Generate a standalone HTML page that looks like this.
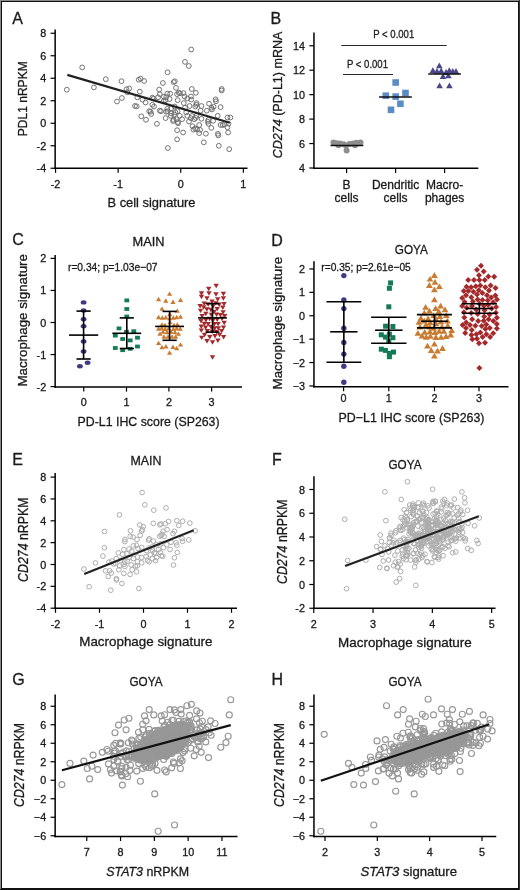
<!DOCTYPE html><html><head><meta charset="utf-8"><style>html,body{margin:0;padding:0;background:#fff;overflow:hidden}svg{display:block;will-change:transform}text{stroke:#1a1a1a;stroke-width:0.3px}</style></head><body><svg width="520" height="890" viewBox="0 0 520 890" font-family='"Liberation Sans", sans-serif' fill="#1a1a1a">
<rect x="0" y="0" width="520" height="890" fill="#ffffff"/>
<rect x="0.5" y="0.5" width="519" height="889" fill="none" stroke="#8a8a8a" stroke-width="1"/>
<rect x="1.5" y="1.5" width="517" height="887" fill="none" stroke="#111" stroke-width="1"/>
<line x1="0" y1="889.5" x2="520" y2="889.5" stroke="#111" stroke-width="1"/>
<line x1="519.5" y1="0" x2="519.5" y2="890" stroke="#333" stroke-width="1"/>
<text x="12.30" y="23.80" font-size="16" text-anchor="start">A</text>
<text x="270.50" y="23.60" font-size="16" text-anchor="start">B</text>
<text x="12.30" y="245.00" font-size="16" text-anchor="start">C</text>
<text x="271.30" y="245.50" font-size="16" text-anchor="start">D</text>
<text x="12.30" y="464.50" font-size="16" text-anchor="start">E</text>
<text x="272.00" y="464.50" font-size="16" text-anchor="start">F</text>
<text x="12.30" y="685.00" font-size="16" text-anchor="start">G</text>
<text x="271.50" y="685.00" font-size="16" text-anchor="start">H</text>
<line x1="55.15" y1="29.50" x2="55.15" y2="168.95" stroke="#000" stroke-width="1.5"/>
<line x1="54.40" y1="168.20" x2="247.50" y2="168.20" stroke="#000" stroke-width="1.5"/>
<line x1="50.55" y1="33.25" x2="55.15" y2="33.25" stroke="#000" stroke-width="1.2"/>
<text x="46.15" y="37.25" font-size="10.8" text-anchor="end">8</text>
<line x1="50.55" y1="55.75" x2="55.15" y2="55.75" stroke="#000" stroke-width="1.2"/>
<text x="46.15" y="59.75" font-size="10.8" text-anchor="end">6</text>
<line x1="50.55" y1="78.25" x2="55.15" y2="78.25" stroke="#000" stroke-width="1.2"/>
<text x="46.15" y="82.25" font-size="10.8" text-anchor="end">4</text>
<line x1="50.55" y1="100.75" x2="55.15" y2="100.75" stroke="#000" stroke-width="1.2"/>
<text x="46.15" y="104.75" font-size="10.8" text-anchor="end">2</text>
<line x1="50.55" y1="123.25" x2="55.15" y2="123.25" stroke="#000" stroke-width="1.2"/>
<text x="46.15" y="127.25" font-size="10.8" text-anchor="end">0</text>
<line x1="50.55" y1="145.75" x2="55.15" y2="145.75" stroke="#000" stroke-width="1.2"/>
<text x="46.15" y="149.75" font-size="10.8" text-anchor="end">-2</text>
<line x1="50.55" y1="168.25" x2="55.15" y2="168.25" stroke="#000" stroke-width="1.2"/>
<text x="46.15" y="172.25" font-size="10.8" text-anchor="end">-4</text>
<line x1="55.55" y1="168.20" x2="55.55" y2="172.80" stroke="#000" stroke-width="1.2"/>
<text x="55.55" y="188.00" font-size="10.8" text-anchor="middle">-2</text>
<line x1="118.15" y1="168.20" x2="118.15" y2="172.80" stroke="#000" stroke-width="1.2"/>
<text x="118.15" y="188.00" font-size="10.8" text-anchor="middle">-1</text>
<line x1="180.75" y1="168.20" x2="180.75" y2="172.80" stroke="#000" stroke-width="1.2"/>
<text x="180.75" y="188.00" font-size="10.8" text-anchor="middle">0</text>
<line x1="243.35" y1="168.20" x2="243.35" y2="172.80" stroke="#000" stroke-width="1.2"/>
<text x="243.35" y="188.00" font-size="10.8" text-anchor="middle">1</text>
<text x="151.50" y="206.90" font-size="13.3" text-anchor="middle" textLength="88" lengthAdjust="spacingAndGlyphs">B cell signature</text>
<text transform="translate(27.30,98.80) rotate(-90)" font-size="13" text-anchor="middle" textLength="75" lengthAdjust="spacingAndGlyphs">PDL1 nRPKM</text>
<line x1="313.95" y1="32.50" x2="313.95" y2="169.10" stroke="#000" stroke-width="1.5"/>
<line x1="313.20" y1="168.35" x2="478.30" y2="168.35" stroke="#000" stroke-width="1.5"/>
<line x1="309.35" y1="45.75" x2="313.95" y2="45.75" stroke="#000" stroke-width="1.2"/>
<text x="304.95" y="49.75" font-size="10.8" text-anchor="end">14</text>
<line x1="309.35" y1="70.20" x2="313.95" y2="70.20" stroke="#000" stroke-width="1.2"/>
<text x="304.95" y="74.20" font-size="10.8" text-anchor="end">12</text>
<line x1="309.35" y1="94.65" x2="313.95" y2="94.65" stroke="#000" stroke-width="1.2"/>
<text x="304.95" y="98.65" font-size="10.8" text-anchor="end">10</text>
<line x1="309.35" y1="119.10" x2="313.95" y2="119.10" stroke="#000" stroke-width="1.2"/>
<text x="304.95" y="123.10" font-size="10.8" text-anchor="end">8</text>
<line x1="309.35" y1="143.55" x2="313.95" y2="143.55" stroke="#000" stroke-width="1.2"/>
<text x="304.95" y="147.55" font-size="10.8" text-anchor="end">6</text>
<line x1="309.35" y1="168.00" x2="313.95" y2="168.00" stroke="#000" stroke-width="1.2"/>
<text x="304.95" y="172.00" font-size="10.8" text-anchor="end">4</text>
<line x1="346.60" y1="168.35" x2="346.60" y2="172.95" stroke="#000" stroke-width="1.2"/>
<text x="346.60" y="188.15" font-size="10.8" text-anchor="middle"></text>
<line x1="395.60" y1="168.35" x2="395.60" y2="172.95" stroke="#000" stroke-width="1.2"/>
<text x="395.60" y="188.15" font-size="10.8" text-anchor="middle"></text>
<line x1="444.60" y1="168.35" x2="444.60" y2="172.95" stroke="#000" stroke-width="1.2"/>
<text x="444.60" y="188.15" font-size="10.8" text-anchor="middle"></text>
<text x="346.60" y="188.50" font-size="12" text-anchor="middle">B</text>
<text x="346.60" y="202.40" font-size="12" text-anchor="middle">cells</text>
<text x="395.60" y="188.50" font-size="12" text-anchor="middle">Dendritic</text>
<text x="395.60" y="202.40" font-size="12" text-anchor="middle">cells</text>
<text x="444.60" y="188.50" font-size="12" text-anchor="middle">Macro-</text>
<text x="444.60" y="202.40" font-size="12" text-anchor="middle">phages</text>
<text transform="translate(281.6,95) rotate(-90)" font-size="13" text-anchor="middle" textLength="126.7" lengthAdjust="spacingAndGlyphs"><tspan font-style="italic">CD274</tspan> (PD-L1) mRNA</text>
<line x1="341.25" y1="45.50" x2="446.75" y2="45.50" stroke="#2a2a2a" stroke-width="1.0"/>
<line x1="343.00" y1="74.50" x2="393.00" y2="74.50" stroke="#2a2a2a" stroke-width="1.0"/>
<text x="393.75" y="38.00" font-size="11" text-anchor="middle" textLength="41" lengthAdjust="spacingAndGlyphs">P &lt; 0.001</text>
<text x="367.50" y="67.50" font-size="11" text-anchor="middle" textLength="41" lengthAdjust="spacingAndGlyphs">P &lt; 0.001</text>
<line x1="55.15" y1="255.00" x2="55.15" y2="387.75" stroke="#000" stroke-width="1.5"/>
<line x1="54.40" y1="387.00" x2="242.00" y2="387.00" stroke="#000" stroke-width="1.5"/>
<line x1="50.55" y1="258.38" x2="55.15" y2="258.38" stroke="#000" stroke-width="1.2"/>
<text x="46.15" y="262.38" font-size="10.8" text-anchor="end">2</text>
<line x1="50.55" y1="290.44" x2="55.15" y2="290.44" stroke="#000" stroke-width="1.2"/>
<text x="46.15" y="294.44" font-size="10.8" text-anchor="end">1</text>
<line x1="50.55" y1="322.50" x2="55.15" y2="322.50" stroke="#000" stroke-width="1.2"/>
<text x="46.15" y="326.50" font-size="10.8" text-anchor="end">0</text>
<line x1="50.55" y1="354.56" x2="55.15" y2="354.56" stroke="#000" stroke-width="1.2"/>
<text x="46.15" y="358.56" font-size="10.8" text-anchor="end">-1</text>
<line x1="50.55" y1="386.62" x2="55.15" y2="386.62" stroke="#000" stroke-width="1.2"/>
<text x="46.15" y="390.62" font-size="10.8" text-anchor="end">-2</text>
<line x1="83.75" y1="387.00" x2="83.75" y2="391.60" stroke="#000" stroke-width="1.2"/>
<text x="83.75" y="405.80" font-size="10.8" text-anchor="middle">0</text>
<line x1="126.50" y1="387.00" x2="126.50" y2="391.60" stroke="#000" stroke-width="1.2"/>
<text x="126.50" y="405.80" font-size="10.8" text-anchor="middle">1</text>
<line x1="168.90" y1="387.00" x2="168.90" y2="391.60" stroke="#000" stroke-width="1.2"/>
<text x="168.90" y="405.80" font-size="10.8" text-anchor="middle">2</text>
<line x1="211.60" y1="387.00" x2="211.60" y2="391.60" stroke="#000" stroke-width="1.2"/>
<text x="211.60" y="405.80" font-size="10.8" text-anchor="middle">3</text>
<text x="148.50" y="246.30" font-size="13" text-anchor="middle" textLength="32" lengthAdjust="spacingAndGlyphs">MAIN</text>
<text x="68.00" y="271.30" font-size="11" text-anchor="start" textLength="89.5" lengthAdjust="spacingAndGlyphs">r=0.34; p=1.03e−07</text>
<text x="148.60" y="425.80" font-size="13" text-anchor="middle" textLength="142" lengthAdjust="spacingAndGlyphs">PD-L1 IHC score (SP263)</text>
<text transform="translate(27.30,320.30) rotate(-90)" font-size="13" text-anchor="middle" textLength="132.5" lengthAdjust="spacingAndGlyphs">Macrophage signature</text>
<line x1="313.95" y1="261.25" x2="313.95" y2="387.40" stroke="#000" stroke-width="1.5"/>
<line x1="313.20" y1="386.65" x2="508.50" y2="386.65" stroke="#000" stroke-width="1.5"/>
<line x1="309.35" y1="268.95" x2="313.95" y2="268.95" stroke="#000" stroke-width="1.2"/>
<text x="304.95" y="272.95" font-size="10.8" text-anchor="end">2</text>
<line x1="309.35" y1="292.35" x2="313.95" y2="292.35" stroke="#000" stroke-width="1.2"/>
<text x="304.95" y="296.35" font-size="10.8" text-anchor="end">1</text>
<line x1="309.35" y1="315.75" x2="313.95" y2="315.75" stroke="#000" stroke-width="1.2"/>
<text x="304.95" y="319.75" font-size="10.8" text-anchor="end">0</text>
<line x1="309.35" y1="339.15" x2="313.95" y2="339.15" stroke="#000" stroke-width="1.2"/>
<text x="304.95" y="343.15" font-size="10.8" text-anchor="end">−1</text>
<line x1="309.35" y1="362.55" x2="313.95" y2="362.55" stroke="#000" stroke-width="1.2"/>
<text x="304.95" y="366.55" font-size="10.8" text-anchor="end">−2</text>
<line x1="309.35" y1="385.95" x2="313.95" y2="385.95" stroke="#000" stroke-width="1.2"/>
<text x="304.95" y="389.95" font-size="10.8" text-anchor="end">−3</text>
<line x1="343.60" y1="386.65" x2="343.60" y2="391.25" stroke="#000" stroke-width="1.2"/>
<text x="343.60" y="401.75" font-size="10.8" text-anchor="middle">0</text>
<line x1="388.80" y1="386.65" x2="388.80" y2="391.25" stroke="#000" stroke-width="1.2"/>
<text x="388.80" y="401.75" font-size="10.8" text-anchor="middle">1</text>
<line x1="434.50" y1="386.65" x2="434.50" y2="391.25" stroke="#000" stroke-width="1.2"/>
<text x="434.50" y="401.75" font-size="10.8" text-anchor="middle">2</text>
<line x1="479.00" y1="386.65" x2="479.00" y2="391.25" stroke="#000" stroke-width="1.2"/>
<text x="479.00" y="401.75" font-size="10.8" text-anchor="middle">3</text>
<text x="411.30" y="253.50" font-size="13" text-anchor="middle" textLength="33" lengthAdjust="spacingAndGlyphs">GOYA</text>
<text x="321.30" y="270.50" font-size="11" text-anchor="start" textLength="89.5" lengthAdjust="spacingAndGlyphs">r=0.35; p=2.61e−05</text>
<text x="411.50" y="421.50" font-size="13" text-anchor="middle" textLength="146" lengthAdjust="spacingAndGlyphs">PD−L1 IHC score (SP263)</text>
<text transform="translate(281.60,323.20) rotate(-90)" font-size="13" text-anchor="middle" textLength="132.5" lengthAdjust="spacingAndGlyphs">Macrophage signature</text>
<line x1="55.15" y1="473.00" x2="55.15" y2="608.95" stroke="#000" stroke-width="1.5"/>
<line x1="54.40" y1="608.20" x2="237.00" y2="608.20" stroke="#000" stroke-width="1.5"/>
<line x1="50.55" y1="477.10" x2="55.15" y2="477.10" stroke="#000" stroke-width="1.2"/>
<text x="46.15" y="481.10" font-size="10.8" text-anchor="end">8</text>
<line x1="50.55" y1="498.95" x2="55.15" y2="498.95" stroke="#000" stroke-width="1.2"/>
<text x="46.15" y="502.95" font-size="10.8" text-anchor="end">6</text>
<line x1="50.55" y1="520.80" x2="55.15" y2="520.80" stroke="#000" stroke-width="1.2"/>
<text x="46.15" y="524.80" font-size="10.8" text-anchor="end">4</text>
<line x1="50.55" y1="542.65" x2="55.15" y2="542.65" stroke="#000" stroke-width="1.2"/>
<text x="46.15" y="546.65" font-size="10.8" text-anchor="end">2</text>
<line x1="50.55" y1="564.50" x2="55.15" y2="564.50" stroke="#000" stroke-width="1.2"/>
<text x="46.15" y="568.50" font-size="10.8" text-anchor="end">0</text>
<line x1="50.55" y1="586.35" x2="55.15" y2="586.35" stroke="#000" stroke-width="1.2"/>
<text x="46.15" y="590.35" font-size="10.8" text-anchor="end">-2</text>
<line x1="50.55" y1="608.20" x2="55.15" y2="608.20" stroke="#000" stroke-width="1.2"/>
<text x="46.15" y="612.20" font-size="10.8" text-anchor="end">-4</text>
<line x1="55.50" y1="608.20" x2="55.50" y2="612.80" stroke="#000" stroke-width="1.2"/>
<text x="55.50" y="628.00" font-size="10.8" text-anchor="middle">-2</text>
<line x1="99.50" y1="608.20" x2="99.50" y2="612.80" stroke="#000" stroke-width="1.2"/>
<text x="99.50" y="628.00" font-size="10.8" text-anchor="middle">-1</text>
<line x1="143.50" y1="608.20" x2="143.50" y2="612.80" stroke="#000" stroke-width="1.2"/>
<text x="143.50" y="628.00" font-size="10.8" text-anchor="middle">0</text>
<line x1="187.50" y1="608.20" x2="187.50" y2="612.80" stroke="#000" stroke-width="1.2"/>
<text x="187.50" y="628.00" font-size="10.8" text-anchor="middle">1</text>
<line x1="231.50" y1="608.20" x2="231.50" y2="612.80" stroke="#000" stroke-width="1.2"/>
<text x="231.50" y="628.00" font-size="10.8" text-anchor="middle">2</text>
<text x="146.00" y="464.60" font-size="13" text-anchor="middle" textLength="31" lengthAdjust="spacingAndGlyphs">MAIN</text>
<text x="145.90" y="646.00" font-size="13" text-anchor="middle" textLength="133.3" lengthAdjust="spacingAndGlyphs">Macrophage signature</text>
<text transform="translate(28.2,539.7) rotate(-90)" font-size="14" text-anchor="middle" textLength="84.5" lengthAdjust="spacingAndGlyphs"><tspan font-style="italic">CD274</tspan> nRPKM</text>
<line x1="313.95" y1="476.25" x2="313.95" y2="609.05" stroke="#000" stroke-width="1.5"/>
<line x1="313.20" y1="608.30" x2="495.50" y2="608.30" stroke="#000" stroke-width="1.5"/>
<line x1="309.35" y1="489.50" x2="313.95" y2="489.50" stroke="#000" stroke-width="1.2"/>
<text x="304.95" y="493.50" font-size="10.8" text-anchor="end">8</text>
<line x1="309.35" y1="513.25" x2="313.95" y2="513.25" stroke="#000" stroke-width="1.2"/>
<text x="304.95" y="517.25" font-size="10.8" text-anchor="end">6</text>
<line x1="309.35" y1="537.00" x2="313.95" y2="537.00" stroke="#000" stroke-width="1.2"/>
<text x="304.95" y="541.00" font-size="10.8" text-anchor="end">4</text>
<line x1="309.35" y1="560.75" x2="313.95" y2="560.75" stroke="#000" stroke-width="1.2"/>
<text x="304.95" y="564.75" font-size="10.8" text-anchor="end">2</text>
<line x1="309.35" y1="584.50" x2="313.95" y2="584.50" stroke="#000" stroke-width="1.2"/>
<text x="304.95" y="588.50" font-size="10.8" text-anchor="end">0</text>
<line x1="309.35" y1="608.25" x2="313.95" y2="608.25" stroke="#000" stroke-width="1.2"/>
<text x="304.95" y="612.25" font-size="10.8" text-anchor="end">-2</text>
<line x1="313.75" y1="608.30" x2="313.75" y2="612.90" stroke="#000" stroke-width="1.2"/>
<text x="313.75" y="628.10" font-size="10.8" text-anchor="middle">2</text>
<line x1="373.05" y1="608.30" x2="373.05" y2="612.90" stroke="#000" stroke-width="1.2"/>
<text x="373.05" y="628.10" font-size="10.8" text-anchor="middle">3</text>
<line x1="432.35" y1="608.30" x2="432.35" y2="612.90" stroke="#000" stroke-width="1.2"/>
<text x="432.35" y="628.10" font-size="10.8" text-anchor="middle">4</text>
<line x1="491.65" y1="608.30" x2="491.65" y2="612.90" stroke="#000" stroke-width="1.2"/>
<text x="491.65" y="628.10" font-size="10.8" text-anchor="middle">5</text>
<text x="405.00" y="469.00" font-size="13" text-anchor="middle" textLength="33" lengthAdjust="spacingAndGlyphs">GOYA</text>
<text x="404.90" y="647.00" font-size="13" text-anchor="middle" textLength="133.8" lengthAdjust="spacingAndGlyphs">Macrophage signature</text>
<text transform="translate(287,541.8) rotate(-90)" font-size="14" text-anchor="middle" textLength="84.4" lengthAdjust="spacingAndGlyphs"><tspan font-style="italic">CD274</tspan> nRPKM</text>
<line x1="55.15" y1="694.50" x2="55.15" y2="837.20" stroke="#000" stroke-width="1.5"/>
<line x1="54.40" y1="836.45" x2="237.50" y2="836.45" stroke="#000" stroke-width="1.5"/>
<line x1="50.55" y1="706.25" x2="55.15" y2="706.25" stroke="#000" stroke-width="1.2"/>
<text x="46.15" y="710.25" font-size="10.8" text-anchor="end">8</text>
<line x1="50.55" y1="724.75" x2="55.15" y2="724.75" stroke="#000" stroke-width="1.2"/>
<text x="46.15" y="728.75" font-size="10.8" text-anchor="end">6</text>
<line x1="50.55" y1="743.25" x2="55.15" y2="743.25" stroke="#000" stroke-width="1.2"/>
<text x="46.15" y="747.25" font-size="10.8" text-anchor="end">4</text>
<line x1="50.55" y1="761.75" x2="55.15" y2="761.75" stroke="#000" stroke-width="1.2"/>
<text x="46.15" y="765.75" font-size="10.8" text-anchor="end">2</text>
<line x1="50.55" y1="780.25" x2="55.15" y2="780.25" stroke="#000" stroke-width="1.2"/>
<text x="46.15" y="784.25" font-size="10.8" text-anchor="end">0</text>
<line x1="50.55" y1="798.75" x2="55.15" y2="798.75" stroke="#000" stroke-width="1.2"/>
<text x="46.15" y="802.75" font-size="10.8" text-anchor="end">−2</text>
<line x1="50.55" y1="817.25" x2="55.15" y2="817.25" stroke="#000" stroke-width="1.2"/>
<text x="46.15" y="821.25" font-size="10.8" text-anchor="end">−4</text>
<line x1="50.55" y1="835.75" x2="55.15" y2="835.75" stroke="#000" stroke-width="1.2"/>
<text x="46.15" y="839.75" font-size="10.8" text-anchor="end">−6</text>
<line x1="86.75" y1="836.45" x2="86.75" y2="841.05" stroke="#000" stroke-width="1.2"/>
<text x="86.75" y="856.45" font-size="10.8" text-anchor="middle">7</text>
<line x1="120.55" y1="836.45" x2="120.55" y2="841.05" stroke="#000" stroke-width="1.2"/>
<text x="120.55" y="856.45" font-size="10.8" text-anchor="middle">8</text>
<line x1="154.35" y1="836.45" x2="154.35" y2="841.05" stroke="#000" stroke-width="1.2"/>
<text x="154.35" y="856.45" font-size="10.8" text-anchor="middle">9</text>
<line x1="188.15" y1="836.45" x2="188.15" y2="841.05" stroke="#000" stroke-width="1.2"/>
<text x="188.15" y="856.45" font-size="10.8" text-anchor="middle">10</text>
<line x1="221.95" y1="836.45" x2="221.95" y2="841.05" stroke="#000" stroke-width="1.2"/>
<text x="221.95" y="856.45" font-size="10.8" text-anchor="middle">11</text>
<text x="146.00" y="685.50" font-size="13" text-anchor="middle" textLength="33" lengthAdjust="spacingAndGlyphs">GOYA</text>
<text x="147.7" y="875.8" font-size="13" text-anchor="middle" textLength="83" lengthAdjust="spacingAndGlyphs"><tspan font-style="italic">STAT3</tspan> nRPKM</text>
<text transform="translate(24.4,764.9) rotate(-90)" font-size="14" text-anchor="middle" textLength="84" lengthAdjust="spacingAndGlyphs"><tspan font-style="italic">CD274</tspan> nRPKM</text>
<line x1="313.95" y1="694.50" x2="313.95" y2="837.20" stroke="#000" stroke-width="1.5"/>
<line x1="313.20" y1="836.45" x2="496.25" y2="836.45" stroke="#000" stroke-width="1.5"/>
<line x1="309.35" y1="706.25" x2="313.95" y2="706.25" stroke="#000" stroke-width="1.2"/>
<text x="304.95" y="710.25" font-size="10.8" text-anchor="end">8</text>
<line x1="309.35" y1="724.75" x2="313.95" y2="724.75" stroke="#000" stroke-width="1.2"/>
<text x="304.95" y="728.75" font-size="10.8" text-anchor="end">6</text>
<line x1="309.35" y1="743.25" x2="313.95" y2="743.25" stroke="#000" stroke-width="1.2"/>
<text x="304.95" y="747.25" font-size="10.8" text-anchor="end">4</text>
<line x1="309.35" y1="761.75" x2="313.95" y2="761.75" stroke="#000" stroke-width="1.2"/>
<text x="304.95" y="765.75" font-size="10.8" text-anchor="end">2</text>
<line x1="309.35" y1="780.25" x2="313.95" y2="780.25" stroke="#000" stroke-width="1.2"/>
<text x="304.95" y="784.25" font-size="10.8" text-anchor="end">0</text>
<line x1="309.35" y1="798.75" x2="313.95" y2="798.75" stroke="#000" stroke-width="1.2"/>
<text x="304.95" y="802.75" font-size="10.8" text-anchor="end">−2</text>
<line x1="309.35" y1="817.25" x2="313.95" y2="817.25" stroke="#000" stroke-width="1.2"/>
<text x="304.95" y="821.25" font-size="10.8" text-anchor="end">−4</text>
<line x1="309.35" y1="835.75" x2="313.95" y2="835.75" stroke="#000" stroke-width="1.2"/>
<text x="304.95" y="839.75" font-size="10.8" text-anchor="end">−6</text>
<line x1="325.00" y1="836.45" x2="325.00" y2="841.05" stroke="#000" stroke-width="1.2"/>
<text x="325.00" y="856.45" font-size="10.8" text-anchor="middle">2</text>
<line x1="377.33" y1="836.45" x2="377.33" y2="841.05" stroke="#000" stroke-width="1.2"/>
<text x="377.33" y="856.45" font-size="10.8" text-anchor="middle">3</text>
<line x1="429.66" y1="836.45" x2="429.66" y2="841.05" stroke="#000" stroke-width="1.2"/>
<text x="429.66" y="856.45" font-size="10.8" text-anchor="middle">4</text>
<line x1="481.99" y1="836.45" x2="481.99" y2="841.05" stroke="#000" stroke-width="1.2"/>
<text x="481.99" y="856.45" font-size="10.8" text-anchor="middle">5</text>
<text x="405.00" y="685.50" font-size="13" text-anchor="middle" textLength="33" lengthAdjust="spacingAndGlyphs">GOYA</text>
<text x="408.75" y="875.8" font-size="13" text-anchor="middle" textLength="96.5" lengthAdjust="spacingAndGlyphs"><tspan font-style="italic">STAT3</tspan> signature</text>
<text transform="translate(283.6,764.9) rotate(-90)" font-size="14" text-anchor="middle" textLength="84" lengthAdjust="spacingAndGlyphs"><tspan font-style="italic">CD274</tspan> nRPKM</text>
<circle cx="333.5" cy="142.6" r="3" fill="#8e8e8e"/>
<circle cx="336.5" cy="143.2" r="3" fill="#8e8e8e"/>
<circle cx="340" cy="143.6" r="3" fill="#8e8e8e"/>
<circle cx="343.5" cy="144.2" r="3" fill="#8e8e8e"/>
<circle cx="349.5" cy="144" r="3" fill="#8e8e8e"/>
<circle cx="353" cy="143.4" r="3" fill="#8e8e8e"/>
<circle cx="356.5" cy="142.8" r="3" fill="#8e8e8e"/>
<circle cx="360.5" cy="142.6" r="3" fill="#8e8e8e"/>
<circle cx="346.6" cy="150.6" r="3" fill="#8e8e8e"/>
<circle cx="346" cy="145.5" r="3" fill="#8e8e8e"/>
<circle cx="338.5" cy="145.2" r="3" fill="#8e8e8e"/>
<circle cx="355" cy="145.2" r="3" fill="#8e8e8e"/>
<line x1="330.50" y1="145.50" x2="363.30" y2="145.50" stroke="#111" stroke-width="1.6"/>
<rect x="392.4" y="79.2" width="6.6" height="6.6" fill="#5b8cc6"/>
<rect x="382.5" y="92.4" width="6.6" height="6.6" fill="#5b8cc6"/>
<rect x="392.4" y="93.3" width="6.6" height="6.6" fill="#5b8cc6"/>
<rect x="402.2" y="89.7" width="6.6" height="6.6" fill="#5b8cc6"/>
<rect x="397.1" y="100.5" width="6.6" height="6.6" fill="#5b8cc6"/>
<rect x="387.7" y="106.5" width="6.6" height="6.6" fill="#5b8cc6"/>
<line x1="379.10" y1="97.00" x2="411.80" y2="97.00" stroke="#111" stroke-width="1.6"/>
<path d="M436.0 68.2L439.3 62.4L442.6 68.2Z" fill="#4a4689"/>
<path d="M429.6 73.0L432.9 67.2L436.2 73.0Z" fill="#4a4689"/>
<path d="M433.7 73.9L437.0 68.1L440.3 73.9Z" fill="#4a4689"/>
<path d="M437.9 73.4L441.2 67.6L444.5 73.4Z" fill="#4a4689"/>
<path d="M446.0 73.0L449.3 67.2L452.6 73.0Z" fill="#4a4689"/>
<path d="M449.5 73.9L452.8 68.1L456.1 73.9Z" fill="#4a4689"/>
<path d="M452.7 73.9L456.0 68.1L459.3 73.9Z" fill="#4a4689"/>
<path d="M442.7 74.9L446.0 69.1L449.3 74.9Z" fill="#4a4689"/>
<path d="M439.7 78.9L443.0 73.1L446.3 78.9Z" fill="#4a4689"/>
<path d="M445.1 78.2L448.4 72.4L451.7 78.2Z" fill="#4a4689"/>
<path d="M436.3 88.2L439.6 82.4L442.9 88.2Z" fill="#4a4689"/>
<path d="M446.1 88.2L449.4 82.4L452.7 88.2Z" fill="#4a4689"/>
<line x1="428.20" y1="74.00" x2="460.90" y2="74.00" stroke="#111" stroke-width="1.6"/>
<ellipse cx="83.6" cy="302.4" rx="2.9" ry="2.2" fill="#3f3b82"/>
<ellipse cx="83.6" cy="310.5" rx="2.9" ry="2.2" fill="#3f3b82"/>
<ellipse cx="83.6" cy="319.3" rx="2.9" ry="2.2" fill="#3f3b82"/>
<ellipse cx="83.6" cy="326.3" rx="2.9" ry="2.2" fill="#3f3b82"/>
<ellipse cx="83.6" cy="341.4" rx="2.9" ry="2.2" fill="#3f3b82"/>
<ellipse cx="83.6" cy="351.4" rx="2.9" ry="2.2" fill="#3f3b82"/>
<ellipse cx="87.6" cy="362.7" rx="2.9" ry="2.2" fill="#3f3b82"/>
<ellipse cx="79.9" cy="366.3" rx="2.9" ry="2.2" fill="#3f3b82"/>
<line x1="83.60" y1="311.10" x2="83.60" y2="359.00" stroke="#000" stroke-width="1.6"/>
<line x1="76.50" y1="311.10" x2="90.70" y2="311.10" stroke="#000" stroke-width="1.6"/>
<line x1="76.50" y1="359.00" x2="90.70" y2="359.00" stroke="#000" stroke-width="1.6"/>
<line x1="69.00" y1="335.10" x2="98.20" y2="335.10" stroke="#000" stroke-width="1.6"/>
<rect x="124.4" y="298.5" width="4.8" height="3.8" fill="#157a56"/>
<rect x="124.4" y="307.1" width="4.8" height="3.8" fill="#157a56"/>
<rect x="124.4" y="314.6" width="4.8" height="3.8" fill="#157a56"/>
<rect x="116.6" y="326.5" width="4.8" height="3.8" fill="#157a56"/>
<rect x="124.1" y="329.9" width="4.8" height="3.8" fill="#157a56"/>
<rect x="131.4" y="329.3" width="4.8" height="3.8" fill="#157a56"/>
<rect x="112.9" y="333.7" width="4.8" height="3.8" fill="#157a56"/>
<rect x="120.3" y="337.1" width="4.8" height="3.8" fill="#157a56"/>
<rect x="127.8" y="338.5" width="4.8" height="3.8" fill="#157a56"/>
<rect x="135.1" y="335.8" width="4.8" height="3.8" fill="#157a56"/>
<rect x="112.9" y="346.1" width="4.8" height="3.8" fill="#157a56"/>
<rect x="120.3" y="348.3" width="4.8" height="3.8" fill="#157a56"/>
<rect x="127.8" y="346.9" width="4.8" height="3.8" fill="#157a56"/>
<rect x="135.1" y="344.6" width="4.8" height="3.8" fill="#157a56"/>
<line x1="126.80" y1="317.90" x2="126.80" y2="348.50" stroke="#000" stroke-width="1.6"/>
<line x1="119.70" y1="317.90" x2="133.90" y2="317.90" stroke="#000" stroke-width="1.6"/>
<line x1="119.70" y1="348.50" x2="133.90" y2="348.50" stroke="#000" stroke-width="1.6"/>
<line x1="112.40" y1="333.30" x2="141.20" y2="333.30" stroke="#000" stroke-width="1.6"/>
<path d="M167.0 295.8L169.6 291.4L172.2 295.8Z" fill="#c97b30"/>
<path d="M156.0 301.2L158.6 296.8L161.2 301.2Z" fill="#c97b30"/>
<path d="M163.2 302.7L165.8 298.3L168.4 302.7Z" fill="#c97b30"/>
<path d="M170.4 303.9L173.0 299.5L175.6 303.9Z" fill="#c97b30"/>
<path d="M177.9 302.0L180.5 297.6L183.1 302.0Z" fill="#c97b30"/>
<path d="M159.4 310.8L162.0 306.4L164.6 310.8Z" fill="#c97b30"/>
<path d="M174.7 312.8L177.3 308.4L179.9 312.8Z" fill="#c97b30"/>
<path d="M167.2 316.2L169.8 311.8L172.4 316.2Z" fill="#c97b30"/>
<path d="M156.0 319.2L158.6 314.8L161.2 319.2Z" fill="#c97b30"/>
<path d="M159.7 319.7L162.3 315.3L164.9 319.7Z" fill="#c97b30"/>
<path d="M163.2 319.4L165.8 315.0L168.4 319.4Z" fill="#c97b30"/>
<path d="M167.2 320.2L169.8 315.8L172.4 320.2Z" fill="#c97b30"/>
<path d="M170.7 319.7L173.3 315.3L175.9 319.7Z" fill="#c97b30"/>
<path d="M174.1 319.2L176.7 314.8L179.3 319.2Z" fill="#c97b30"/>
<path d="M177.9 318.7L180.5 314.3L183.1 318.7Z" fill="#c97b30"/>
<path d="M159.4 326.6L162.0 322.2L164.6 326.6Z" fill="#c97b30"/>
<path d="M174.7 326.6L177.3 322.2L179.9 326.6Z" fill="#c97b30"/>
<path d="M156.0 330.7L158.6 326.3L161.2 330.7Z" fill="#c97b30"/>
<path d="M159.1 330.2L161.7 325.8L164.3 330.2Z" fill="#c97b30"/>
<path d="M162.6 331.0L165.2 326.6L167.8 331.0Z" fill="#c97b30"/>
<path d="M166.0 330.4L168.6 326.0L171.2 330.4Z" fill="#c97b30"/>
<path d="M170.7 331.0L173.3 326.6L175.9 331.0Z" fill="#c97b30"/>
<path d="M174.1 330.4L176.7 326.0L179.3 330.4Z" fill="#c97b30"/>
<path d="M177.6 330.7L180.2 326.3L182.8 330.7Z" fill="#c97b30"/>
<path d="M160.4 333.7L163.0 329.3L165.6 333.7Z" fill="#c97b30"/>
<path d="M164.4 334.2L167.0 329.8L169.6 334.2Z" fill="#c97b30"/>
<path d="M168.4 333.7L171.0 329.3L173.6 333.7Z" fill="#c97b30"/>
<path d="M172.4 334.2L175.0 329.8L177.6 334.2Z" fill="#c97b30"/>
<path d="M157.4 335.8L160.0 331.4L162.6 335.8Z" fill="#c97b30"/>
<path d="M175.9 335.8L178.5 331.4L181.1 335.8Z" fill="#c97b30"/>
<path d="M161.4 338.7L164.0 334.3L166.6 338.7Z" fill="#c97b30"/>
<path d="M165.4 338.7L168.0 334.3L170.6 338.7Z" fill="#c97b30"/>
<path d="M169.4 338.7L172.0 334.3L174.6 338.7Z" fill="#c97b30"/>
<path d="M173.0 338.7L175.6 334.3L178.2 338.7Z" fill="#c97b30"/>
<path d="M156.0 345.1L158.6 340.7L161.2 345.1Z" fill="#c97b30"/>
<path d="M177.9 346.6L180.5 342.2L183.1 346.6Z" fill="#c97b30"/>
<path d="M159.4 349.2L162.0 344.8L164.6 349.2Z" fill="#c97b30"/>
<path d="M163.4 348.5L166.0 344.1L168.6 348.5Z" fill="#c97b30"/>
<path d="M170.4 348.9L173.0 344.5L175.6 348.9Z" fill="#c97b30"/>
<path d="M174.1 350.2L176.7 345.8L179.3 350.2Z" fill="#c97b30"/>
<path d="M167.0 354.7L169.6 350.3L172.2 354.7Z" fill="#c97b30"/>
<path d="M167.4 324.2L170.0 319.8L172.6 324.2Z" fill="#c97b30"/>
<path d="M162.4 327.2L165.0 322.8L167.6 327.2Z" fill="#c97b30"/>
<path d="M171.4 327.2L174.0 322.8L176.6 327.2Z" fill="#c97b30"/>
<line x1="169.60" y1="311.40" x2="169.60" y2="340.30" stroke="#000" stroke-width="1.6"/>
<line x1="162.50" y1="311.40" x2="176.70" y2="311.40" stroke="#000" stroke-width="1.6"/>
<line x1="162.50" y1="340.30" x2="176.70" y2="340.30" stroke="#000" stroke-width="1.6"/>
<line x1="155.20" y1="326.40" x2="184.00" y2="326.40" stroke="#000" stroke-width="1.6"/>
<path d="M213.5 283.8L216.2 288.2L218.9 283.8Z" fill="#a3292b"/>
<path d="M206.0 286.8L208.7 291.2L211.4 286.8Z" fill="#a3292b"/>
<path d="M198.8 291.3L201.5 295.7L204.2 291.3Z" fill="#a3292b"/>
<path d="M206.3 291.3L209.0 295.7L211.7 291.3Z" fill="#a3292b"/>
<path d="M213.3 292.3L216.0 296.7L218.7 292.3Z" fill="#a3292b"/>
<path d="M220.7 291.8L223.4 296.2L226.1 291.8Z" fill="#a3292b"/>
<path d="M198.8 294.8L201.5 299.2L204.2 294.8Z" fill="#a3292b"/>
<path d="M204.3 296.3L207.0 300.7L209.7 296.3Z" fill="#a3292b"/>
<path d="M215.0 297.3L217.7 301.7L220.4 297.3Z" fill="#a3292b"/>
<path d="M220.7 296.3L223.4 300.7L226.1 296.3Z" fill="#a3292b"/>
<path d="M209.3 299.6L212.0 304.0L214.7 299.6Z" fill="#a3292b"/>
<path d="M201.9 332.8L204.6 337.2L207.3 332.8Z" fill="#a3292b"/>
<path d="M199.0 335.7L201.7 340.1L204.4 335.7Z" fill="#a3292b"/>
<path d="M207.1 335.1L209.8 339.5L212.5 335.1Z" fill="#a3292b"/>
<path d="M212.3 334.0L215.0 338.4L217.7 334.0Z" fill="#a3292b"/>
<path d="M216.9 332.8L219.6 337.2L222.3 332.8Z" fill="#a3292b"/>
<path d="M220.9 335.1L223.6 339.5L226.3 335.1Z" fill="#a3292b"/>
<path d="M204.3 339.1L207.0 343.5L209.7 339.1Z" fill="#a3292b"/>
<path d="M209.8 340.3L212.5 344.7L215.2 340.3Z" fill="#a3292b"/>
<path d="M215.2 338.6L217.9 343.0L220.6 338.6Z" fill="#a3292b"/>
<path d="M209.8 355.3L212.5 359.7L215.2 355.3Z" fill="#a3292b"/>
<path d="M203.1 311.8L205.8 316.2L208.5 311.8Z" fill="#a3292b"/>
<path d="M220.1 305.6L222.8 310.0L225.5 305.6Z" fill="#a3292b"/>
<path d="M214.5 317.6L217.2 322.0L219.9 317.6Z" fill="#a3292b"/>
<path d="M206.9 316.8L209.6 321.2L212.3 316.8Z" fill="#a3292b"/>
<path d="M211.7 322.0L214.4 326.4L217.1 322.0Z" fill="#a3292b"/>
<path d="M208.4 325.1L211.1 329.5L213.8 325.1Z" fill="#a3292b"/>
<path d="M201.0 305.3L203.7 309.7L206.4 305.3Z" fill="#a3292b"/>
<path d="M201.7 321.8L204.4 326.2L207.1 321.8Z" fill="#a3292b"/>
<path d="M216.5 302.5L219.2 306.9L221.9 302.5Z" fill="#a3292b"/>
<path d="M215.4 321.9L218.1 326.3L220.8 321.9Z" fill="#a3292b"/>
<path d="M221.5 320.8L224.2 325.2L226.9 320.8Z" fill="#a3292b"/>
<path d="M205.5 302.4L208.2 306.8L210.9 302.4Z" fill="#a3292b"/>
<path d="M213.9 312.6L216.6 317.0L219.3 312.6Z" fill="#a3292b"/>
<path d="M201.5 301.4L204.2 305.8L206.9 301.4Z" fill="#a3292b"/>
<path d="M219.3 316.5L222.0 320.9L224.7 316.5Z" fill="#a3292b"/>
<path d="M215.7 326.2L218.4 330.6L221.1 326.2Z" fill="#a3292b"/>
<path d="M220.8 325.4L223.5 329.8L226.2 325.4Z" fill="#a3292b"/>
<path d="M208.2 307.8L210.9 312.2L213.6 307.8Z" fill="#a3292b"/>
<path d="M208.6 312.7L211.3 317.1L214.0 312.7Z" fill="#a3292b"/>
<path d="M204.6 328.9L207.3 333.3L210.0 328.9Z" fill="#a3292b"/>
<path d="M214.5 306.9L217.2 311.3L219.9 306.9Z" fill="#a3292b"/>
<path d="M220.4 310.2L223.1 314.6L225.8 310.2Z" fill="#a3292b"/>
<path d="M218.9 328.9L221.6 333.3L224.3 328.9Z" fill="#a3292b"/>
<path d="M198.6 324.6L201.3 329.0L204.0 324.6Z" fill="#a3292b"/>
<path d="M203.2 318.0L205.9 322.4L208.6 318.0Z" fill="#a3292b"/>
<path d="M197.9 308.7L200.6 313.1L203.3 308.7Z" fill="#a3292b"/>
<path d="M213.7 329.8L216.4 334.2L219.1 329.8Z" fill="#a3292b"/>
<path d="M213.1 301.2L215.8 305.6L218.5 301.2Z" fill="#a3292b"/>
<path d="M199.4 314.1L202.1 318.5L204.8 314.1Z" fill="#a3292b"/>
<path d="M198.6 328.4L201.3 332.8L204.0 328.4Z" fill="#a3292b"/>
<path d="M198.3 319.1L201.0 323.5L203.7 319.1Z" fill="#a3292b"/>
<path d="M209.6 329.5L212.3 333.9L215.0 329.5Z" fill="#a3292b"/>
<path d="M205.5 322.1L208.2 326.5L210.9 322.1Z" fill="#a3292b"/>
<path d="M204.2 307.3L206.9 311.7L209.6 307.3Z" fill="#a3292b"/>
<path d="M222.0 313.9L224.7 318.3L227.4 313.9Z" fill="#a3292b"/>
<path d="M210.3 304.3L213.0 308.7L215.7 304.3Z" fill="#a3292b"/>
<path d="M210.2 318.5L212.9 322.9L215.6 318.5Z" fill="#a3292b"/>
<path d="M221.3 301.9L224.0 306.3L226.7 301.9Z" fill="#a3292b"/>
<path d="M197.4 304.1L200.1 308.5L202.8 304.1Z" fill="#a3292b"/>
<path d="M202.9 325.5L205.6 329.9L208.3 325.5Z" fill="#a3292b"/>
<path d="M217.7 312.9L220.4 317.3L223.1 312.9Z" fill="#a3292b"/>
<path d="M212.0 326.3L214.7 330.7L217.4 326.3Z" fill="#a3292b"/>
<path d="M211.4 309.8L214.1 314.2L216.8 309.8Z" fill="#a3292b"/>
<line x1="212.50" y1="303.60" x2="212.50" y2="332.10" stroke="#000" stroke-width="1.6"/>
<line x1="205.60" y1="303.60" x2="219.40" y2="303.60" stroke="#000" stroke-width="1.6"/>
<line x1="205.60" y1="332.10" x2="219.40" y2="332.10" stroke="#000" stroke-width="1.6"/>
<line x1="198.10" y1="317.90" x2="226.90" y2="317.90" stroke="#000" stroke-width="1.6"/>
<circle cx="343.85" cy="275.6" r="2.7" fill="#3f3b82"/>
<circle cx="343.85" cy="299.9" r="2.7" fill="#3f3b82"/>
<circle cx="343.85" cy="308.6" r="2.7" fill="#3f3b82"/>
<circle cx="343.85" cy="328.3" r="2.7" fill="#3f3b82"/>
<circle cx="343.85" cy="342.4" r="2.7" fill="#3f3b82"/>
<circle cx="343.85" cy="354.1" r="2.7" fill="#3f3b82"/>
<circle cx="343.85" cy="366.3" r="2.7" fill="#3f3b82"/>
<circle cx="343.85" cy="382.2" r="2.7" fill="#3f3b82"/>
<line x1="343.85" y1="301.80" x2="343.85" y2="362.20" stroke="#000" stroke-width="1.6"/>
<line x1="326.40" y1="301.80" x2="361.30" y2="301.80" stroke="#000" stroke-width="1.6"/>
<line x1="326.40" y1="362.20" x2="361.30" y2="362.20" stroke="#000" stroke-width="1.6"/>
<line x1="330.20" y1="331.80" x2="357.50" y2="331.80" stroke="#000" stroke-width="1.6"/>
<rect x="388.1" y="280.4" width="5.0" height="5.0" fill="#157a56"/>
<rect x="386.9" y="285.8" width="5.0" height="5.0" fill="#157a56"/>
<rect x="386.3" y="304.3" width="5.0" height="5.0" fill="#157a56"/>
<rect x="383.1" y="323.7" width="5.0" height="5.0" fill="#157a56"/>
<rect x="390.4" y="324.0" width="5.0" height="5.0" fill="#157a56"/>
<rect x="378.8" y="332.3" width="5.0" height="5.0" fill="#157a56"/>
<rect x="382.9" y="334.6" width="5.0" height="5.0" fill="#157a56"/>
<rect x="386.9" y="331.7" width="5.0" height="5.0" fill="#157a56"/>
<rect x="390.4" y="335.2" width="5.0" height="5.0" fill="#157a56"/>
<rect x="386.3" y="338.7" width="5.0" height="5.0" fill="#157a56"/>
<rect x="378.8" y="346.7" width="5.0" height="5.0" fill="#157a56"/>
<rect x="382.9" y="347.9" width="5.0" height="5.0" fill="#157a56"/>
<rect x="386.9" y="350.8" width="5.0" height="5.0" fill="#157a56"/>
<rect x="391.0" y="349.6" width="5.0" height="5.0" fill="#157a56"/>
<rect x="386.9" y="354.2" width="5.0" height="5.0" fill="#157a56"/>
<line x1="388.80" y1="317.30" x2="388.80" y2="343.20" stroke="#000" stroke-width="1.6"/>
<line x1="371.10" y1="317.30" x2="406.50" y2="317.30" stroke="#000" stroke-width="1.6"/>
<line x1="371.10" y1="343.20" x2="406.50" y2="343.20" stroke="#000" stroke-width="1.6"/>
<line x1="375.10" y1="330.20" x2="402.50" y2="330.20" stroke="#000" stroke-width="1.6"/>
<path d="M431.0 277.9L434.4 272.1L437.8 277.9Z" fill="#c97b30"/>
<path d="M426.6 281.6L430.0 275.9L433.4 281.6Z" fill="#c97b30"/>
<path d="M431.6 284.8L435.0 279.0L438.4 284.8Z" fill="#c97b30"/>
<path d="M426.0 287.9L429.4 282.1L432.8 287.9Z" fill="#c97b30"/>
<path d="M436.0 289.1L439.4 283.4L442.8 289.1Z" fill="#c97b30"/>
<path d="M431.0 292.3L434.4 286.5L437.8 292.3Z" fill="#c97b30"/>
<path d="M431.0 302.3L434.4 296.5L437.8 302.3Z" fill="#c97b30"/>
<path d="M422.2 309.8L425.6 304.0L429.0 309.8Z" fill="#c97b30"/>
<path d="M437.2 308.5L440.6 302.7L444.0 308.5Z" fill="#c97b30"/>
<path d="M432.2 311.0L435.6 305.2L439.0 311.0Z" fill="#c97b30"/>
<path d="M426.0 313.5L429.4 307.7L432.8 313.5Z" fill="#c97b30"/>
<path d="M441.6 312.3L445.0 306.5L448.4 312.3Z" fill="#c97b30"/>
<path d="M435.4 314.1L438.8 308.4L442.1 314.1Z" fill="#c97b30"/>
<path d="M424.1 348.5L427.5 342.7L430.9 348.5Z" fill="#c97b30"/>
<path d="M431.0 346.6L434.4 340.9L437.8 346.6Z" fill="#c97b30"/>
<path d="M439.1 350.9L442.5 345.1L445.9 350.9Z" fill="#c97b30"/>
<path d="M427.9 352.9L431.2 347.1L434.6 352.9Z" fill="#c97b30"/>
<path d="M434.1 353.5L437.5 347.7L440.9 353.5Z" fill="#c97b30"/>
<path d="M431.0 358.5L434.4 352.7L437.8 358.5Z" fill="#c97b30"/>
<path d="M436.5 319.0L439.9 313.2L443.3 319.0Z" fill="#c97b30"/>
<path d="M430.3 330.8L433.7 325.0L437.1 330.8Z" fill="#c97b30"/>
<path d="M431.5 335.1L434.9 329.3L438.3 335.1Z" fill="#c97b30"/>
<path d="M422.5 327.5L425.9 321.7L429.3 327.5Z" fill="#c97b30"/>
<path d="M416.6 329.5L420.0 323.7L423.4 329.5Z" fill="#c97b30"/>
<path d="M421.3 334.7L424.7 328.9L428.1 334.7Z" fill="#c97b30"/>
<path d="M417.5 320.7L420.9 314.9L424.3 320.7Z" fill="#c97b30"/>
<path d="M437.7 339.8L441.1 334.0L444.5 339.8Z" fill="#c97b30"/>
<path d="M427.0 338.7L430.4 332.9L433.8 338.7Z" fill="#c97b30"/>
<path d="M442.9 318.0L446.3 312.2L449.7 318.0Z" fill="#c97b30"/>
<path d="M432.6 326.2L436.0 320.4L439.4 326.2Z" fill="#c97b30"/>
<path d="M442.7 339.1L446.1 333.3L449.5 339.1Z" fill="#c97b30"/>
<path d="M440.4 333.8L443.8 328.0L447.2 333.8Z" fill="#c97b30"/>
<path d="M438.6 329.4L442.0 323.6L445.4 329.4Z" fill="#c97b30"/>
<path d="M430.3 318.0L433.7 312.2L437.1 318.0Z" fill="#c97b30"/>
<path d="M426.8 325.1L430.2 319.3L433.6 325.1Z" fill="#c97b30"/>
<path d="M420.9 315.6L424.3 309.8L427.7 315.6Z" fill="#c97b30"/>
<path d="M448.3 332.9L451.7 327.1L455.1 332.9Z" fill="#c97b30"/>
<path d="M444.1 323.6L447.5 317.8L450.9 323.6Z" fill="#c97b30"/>
<path d="M426.5 334.3L429.9 328.5L433.3 334.3Z" fill="#c97b30"/>
<path d="M414.5 335.8L417.9 330.0L421.3 335.8Z" fill="#c97b30"/>
<path d="M424.7 321.3L428.1 315.5L431.5 321.3Z" fill="#c97b30"/>
<path d="M447.3 337.4L450.7 331.6L454.1 337.4Z" fill="#c97b30"/>
<path d="M437.5 324.3L440.9 318.5L444.3 324.3Z" fill="#c97b30"/>
<path d="M418.6 338.6L422.0 332.8L425.4 338.6Z" fill="#c97b30"/>
<path d="M444.3 328.2L447.7 322.4L451.1 328.2Z" fill="#c97b30"/>
<path d="M432.5 339.9L435.9 334.1L439.3 339.9Z" fill="#c97b30"/>
<path d="M415.6 324.7L419.0 318.9L422.4 324.7Z" fill="#c97b30"/>
<path d="M435.8 333.8L439.2 328.0L442.6 333.8Z" fill="#c97b30"/>
<path d="M432.5 321.8L435.9 316.0L439.3 321.8Z" fill="#c97b30"/>
<path d="M422.8 339.7L426.2 333.9L429.6 339.7Z" fill="#c97b30"/>
<path d="M426.3 329.4L429.7 323.6L433.1 329.4Z" fill="#c97b30"/>
<path d="M420.9 323.6L424.3 317.8L427.7 323.6Z" fill="#c97b30"/>
<line x1="434.40" y1="314.60" x2="434.40" y2="327.90" stroke="#000" stroke-width="1.6"/>
<line x1="416.90" y1="314.60" x2="451.90" y2="314.60" stroke="#000" stroke-width="1.6"/>
<line x1="416.90" y1="327.90" x2="451.90" y2="327.90" stroke="#000" stroke-width="1.6"/>
<line x1="420.95" y1="321.25" x2="447.85" y2="321.25" stroke="#000" stroke-width="1.6"/>
<path d="M481.0 262.8L484.0 265.8L481.0 268.8L478.0 265.8Z" fill="#a3292b"/>
<path d="M477.0 266.8L480.0 269.8L477.0 272.8L474.0 269.8Z" fill="#a3292b"/>
<path d="M483.7 268.5L486.7 271.5L483.7 274.5L480.7 271.5Z" fill="#a3292b"/>
<path d="M479.0 272.2L482.0 275.2L479.0 278.2L476.0 275.2Z" fill="#a3292b"/>
<path d="M488.4 273.6L491.4 276.6L488.4 279.6L485.4 276.6Z" fill="#a3292b"/>
<path d="M494.2 273.8L497.2 276.8L494.2 279.8L491.2 276.8Z" fill="#a3292b"/>
<path d="M468.2 277.0L471.2 280.0L468.2 283.0L465.2 280.0Z" fill="#a3292b"/>
<path d="M474.0 277.0L477.0 280.0L474.0 283.0L471.0 280.0Z" fill="#a3292b"/>
<path d="M479.4 277.0L482.4 280.0L479.4 283.0L476.4 280.0Z" fill="#a3292b"/>
<path d="M484.8 277.0L487.8 280.0L484.8 283.0L481.8 280.0Z" fill="#a3292b"/>
<path d="M479.0 340.3L482.0 343.3L479.0 346.3L476.0 343.3Z" fill="#a3292b"/>
<path d="M485.0 339.7L488.0 342.7L485.0 345.7L482.0 342.7Z" fill="#a3292b"/>
<path d="M479.4 365.0L482.4 368.0L479.4 371.0L476.4 368.0Z" fill="#a3292b"/>
<path d="M484.2 313.4L487.2 316.4L484.2 319.4L481.2 316.4Z" fill="#a3292b"/>
<path d="M471.8 326.9L474.8 329.9L471.8 332.9L468.8 329.9Z" fill="#a3292b"/>
<path d="M493.3 317.9L496.3 320.9L493.3 323.9L490.3 320.9Z" fill="#a3292b"/>
<path d="M471.4 332.0L474.4 335.0L471.4 338.0L468.4 335.0Z" fill="#a3292b"/>
<path d="M483.7 317.8L486.7 320.8L483.7 323.8L480.7 320.8Z" fill="#a3292b"/>
<path d="M495.9 309.7L498.9 312.7L495.9 315.7L492.9 312.7Z" fill="#a3292b"/>
<path d="M477.7 311.1L480.7 314.1L477.7 317.1L474.7 314.1Z" fill="#a3292b"/>
<path d="M482.6 333.9L485.6 336.9L482.6 339.9L479.6 336.9Z" fill="#a3292b"/>
<path d="M472.9 298.6L475.9 301.6L472.9 304.6L469.9 301.6Z" fill="#a3292b"/>
<path d="M463.9 309.3L466.9 312.3L463.9 315.3L460.9 312.3Z" fill="#a3292b"/>
<path d="M491.7 305.4L494.7 308.4L491.7 311.4L488.7 308.4Z" fill="#a3292b"/>
<path d="M466.2 319.5L469.2 322.5L466.2 325.5L463.2 322.5Z" fill="#a3292b"/>
<path d="M495.5 285.1L498.5 288.1L495.5 291.1L492.5 288.1Z" fill="#a3292b"/>
<path d="M486.4 331.3L489.4 334.3L486.4 337.3L483.4 334.3Z" fill="#a3292b"/>
<path d="M473.4 288.8L476.4 291.8L473.4 294.8L470.4 291.8Z" fill="#a3292b"/>
<path d="M480.3 282.4L483.3 285.4L480.3 288.4L477.3 285.4Z" fill="#a3292b"/>
<path d="M466.0 292.2L469.0 295.2L466.0 298.2L463.0 295.2Z" fill="#a3292b"/>
<path d="M481.7 323.1L484.7 326.1L481.7 329.1L478.7 326.1Z" fill="#a3292b"/>
<path d="M478.1 318.0L481.1 321.0L478.1 324.0L475.1 321.0Z" fill="#a3292b"/>
<path d="M489.6 311.6L492.6 314.6L489.6 317.6L486.6 314.6Z" fill="#a3292b"/>
<path d="M464.6 298.9L467.6 301.9L464.6 304.9L461.6 301.9Z" fill="#a3292b"/>
<path d="M466.0 324.9L469.0 327.9L466.0 330.9L463.0 327.9Z" fill="#a3292b"/>
<path d="M465.2 330.0L468.2 333.0L465.2 336.0L462.2 333.0Z" fill="#a3292b"/>
<path d="M493.2 299.3L496.2 302.3L493.2 305.3L490.2 302.3Z" fill="#a3292b"/>
<path d="M466.5 283.8L469.5 286.8L466.5 289.8L463.5 286.8Z" fill="#a3292b"/>
<path d="M471.2 309.9L474.2 312.9L471.2 315.9L468.2 312.9Z" fill="#a3292b"/>
<path d="M493.2 330.2L496.2 333.2L493.2 336.2L490.2 333.2Z" fill="#a3292b"/>
<path d="M487.0 292.2L490.0 295.2L487.0 298.2L484.0 295.2Z" fill="#a3292b"/>
<path d="M472.1 316.2L475.1 319.2L472.1 322.2L469.1 319.2Z" fill="#a3292b"/>
<path d="M488.7 316.3L491.7 319.3L488.7 322.3L485.7 319.3Z" fill="#a3292b"/>
<path d="M482.5 296.9L485.5 299.9L482.5 302.9L479.5 299.9Z" fill="#a3292b"/>
<path d="M495.4 292.4L498.4 295.4L495.4 298.4L492.4 295.4Z" fill="#a3292b"/>
<path d="M489.8 324.9L492.8 327.9L489.8 330.9L486.8 327.9Z" fill="#a3292b"/>
<path d="M490.6 282.4L493.6 285.4L490.6 288.4L487.6 285.4Z" fill="#a3292b"/>
<path d="M479.5 300.7L482.5 303.7L479.5 306.7L476.5 303.7Z" fill="#a3292b"/>
<path d="M466.7 304.8L469.7 307.8L466.7 310.8L463.7 307.8Z" fill="#a3292b"/>
<path d="M484.5 307.3L487.5 310.3L484.5 313.3L481.5 310.3Z" fill="#a3292b"/>
<path d="M472.0 303.1L475.0 306.1L472.0 309.1L469.0 306.1Z" fill="#a3292b"/>
<path d="M470.0 321.9L473.0 324.9L470.0 327.9L467.0 324.9Z" fill="#a3292b"/>
<path d="M477.0 335.8L480.0 338.8L477.0 341.8L474.0 338.8Z" fill="#a3292b"/>
<path d="M471.1 284.3L474.1 287.3L471.1 290.3L468.1 287.3Z" fill="#a3292b"/>
<path d="M487.7 297.6L490.7 300.6L487.7 303.6L484.7 300.6Z" fill="#a3292b"/>
<path d="M476.1 306.4L479.1 309.4L476.1 312.4L473.1 309.4Z" fill="#a3292b"/>
<path d="M489.0 287.4L492.0 290.4L489.0 293.4L486.0 290.4Z" fill="#a3292b"/>
<path d="M477.0 291.6L480.0 294.6L477.0 297.6L474.0 294.6Z" fill="#a3292b"/>
<path d="M496.9 325.5L499.9 328.5L496.9 331.5L493.9 328.5Z" fill="#a3292b"/>
<path d="M464.3 314.6L467.3 317.6L464.3 320.6L461.3 317.6Z" fill="#a3292b"/>
<path d="M475.4 322.7L478.4 325.7L475.4 328.7L472.4 325.7Z" fill="#a3292b"/>
<path d="M490.1 334.0L493.1 337.0L490.1 340.0L487.1 337.0Z" fill="#a3292b"/>
<path d="M483.8 302.8L486.8 305.8L483.8 308.8L480.8 305.8Z" fill="#a3292b"/>
<path d="M480.4 329.6L483.4 332.6L480.4 335.6L477.4 332.6Z" fill="#a3292b"/>
<path d="M471.3 294.2L474.3 297.2L471.3 300.2L468.3 297.2Z" fill="#a3292b"/>
<path d="M476.3 331.2L479.3 334.2L476.3 337.2L473.3 334.2Z" fill="#a3292b"/>
<path d="M485.3 284.2L488.3 287.2L485.3 290.2L482.3 287.2Z" fill="#a3292b"/>
<path d="M496.8 320.9L499.8 323.9L496.8 326.9L493.8 323.9Z" fill="#a3292b"/>
<path d="M478.8 287.3L481.8 290.3L478.8 293.3L475.8 290.3Z" fill="#a3292b"/>
<path d="M496.1 304.1L499.1 307.1L496.1 310.1L493.1 307.1Z" fill="#a3292b"/>
<path d="M475.8 283.2L478.8 286.2L475.8 289.2L472.8 286.2Z" fill="#a3292b"/>
<path d="M482.4 290.0L485.4 293.0L482.4 296.0L479.4 293.0Z" fill="#a3292b"/>
<path d="M486.3 321.5L489.3 324.5L486.3 327.5L483.3 324.5Z" fill="#a3292b"/>
<path d="M485.4 326.1L488.4 329.1L485.4 332.1L482.4 329.1Z" fill="#a3292b"/>
<path d="M491.2 294.5L494.2 297.5L491.2 300.5L488.2 297.5Z" fill="#a3292b"/>
<path d="M496.9 314.8L499.9 317.8L496.9 320.8L493.9 317.8Z" fill="#a3292b"/>
<path d="M463.8 288.1L466.8 291.1L463.8 294.1L460.8 291.1Z" fill="#a3292b"/>
<path d="M462.2 303.1L465.2 306.1L462.2 309.1L459.2 306.1Z" fill="#a3292b"/>
<path d="M488.2 302.0L491.2 305.0L488.2 308.0L485.2 305.0Z" fill="#a3292b"/>
<path d="M477.6 296.5L480.6 299.5L477.6 302.5L474.6 299.5Z" fill="#a3292b"/>
<path d="M472.3 336.3L475.3 339.3L472.3 342.3L469.3 339.3Z" fill="#a3292b"/>
<path d="M462.2 294.9L465.2 297.9L462.2 300.9L459.2 297.9Z" fill="#a3292b"/>
<path d="M497.0 296.5L500.0 299.5L497.0 302.5L494.0 299.5Z" fill="#a3292b"/>
<path d="M468.4 288.1L471.4 291.1L468.4 294.1L465.4 291.1Z" fill="#a3292b"/>
<path d="M462.6 322.0L465.6 325.0L462.6 328.0L459.6 325.0Z" fill="#a3292b"/>
<line x1="479.40" y1="303.80" x2="479.40" y2="313.30" stroke="#000" stroke-width="1.6"/>
<line x1="461.90" y1="303.80" x2="496.90" y2="303.80" stroke="#000" stroke-width="1.6"/>
<line x1="461.90" y1="313.30" x2="496.90" y2="313.30" stroke="#000" stroke-width="1.6"/>
<line x1="465.75" y1="308.50" x2="493.05" y2="308.50" stroke="#000" stroke-width="1.6"/>
<g fill="none" stroke="#6c6c6c" stroke-width="0.95">
<circle cx="66.8" cy="89.7" r="2.4"/>
<circle cx="82.2" cy="67.4" r="2.4"/>
<circle cx="93.9" cy="87.4" r="2.4"/>
<circle cx="105.8" cy="79.2" r="2.4"/>
<circle cx="121.5" cy="81.2" r="2.4"/>
<circle cx="126.5" cy="89.2" r="2.4"/>
<circle cx="129.2" cy="88.5" r="2.4"/>
<circle cx="121.9" cy="98.0" r="2.4"/>
<circle cx="117.0" cy="101.5" r="2.4"/>
<circle cx="127.3" cy="92.3" r="2.4"/>
<circle cx="135.0" cy="106.0" r="2.4"/>
<circle cx="138.7" cy="79.8" r="2.4"/>
<circle cx="140.6" cy="78.7" r="2.4"/>
<circle cx="144.1" cy="81.0" r="2.4"/>
<circle cx="167.5" cy="72.3" r="2.4"/>
<circle cx="185.0" cy="61.9" r="2.4"/>
<circle cx="188.8" cy="66.0" r="2.4"/>
<circle cx="191.2" cy="49.5" r="2.4"/>
<circle cx="139.8" cy="91.6" r="2.4"/>
<circle cx="162.9" cy="83.0" r="2.4"/>
<circle cx="173.7" cy="82.1" r="2.4"/>
<circle cx="174.8" cy="81.3" r="2.4"/>
<circle cx="176.0" cy="87.9" r="2.4"/>
<circle cx="159.2" cy="89.6" r="2.4"/>
<circle cx="191.8" cy="89.0" r="2.4"/>
<circle cx="195.8" cy="92.8" r="2.4"/>
<circle cx="167.3" cy="93.7" r="2.4"/>
<circle cx="170.2" cy="93.7" r="2.4"/>
<circle cx="177.1" cy="94.2" r="2.4"/>
<circle cx="180.0" cy="93.3" r="2.4"/>
<circle cx="183.5" cy="93.1" r="2.4"/>
<circle cx="159.8" cy="94.2" r="2.4"/>
<circle cx="191.0" cy="96.5" r="2.4"/>
<circle cx="152.3" cy="97.7" r="2.4"/>
<circle cx="166.2" cy="97.1" r="2.4"/>
<circle cx="184.6" cy="96.5" r="2.4"/>
<circle cx="221.7" cy="89.0" r="2.4"/>
<circle cx="215.6" cy="99.4" r="2.4"/>
<circle cx="136.7" cy="106.3" r="2.4"/>
<circle cx="137.3" cy="97.3" r="2.4"/>
<circle cx="145.6" cy="102.5" r="2.4"/>
<circle cx="142.5" cy="99.6" r="2.4"/>
<circle cx="152.3" cy="104.8" r="2.4"/>
<circle cx="154.0" cy="106.5" r="2.4"/>
<circle cx="150.6" cy="111.7" r="2.4"/>
<circle cx="151.2" cy="114.0" r="2.4"/>
<circle cx="141.3" cy="116.3" r="2.4"/>
<circle cx="146.0" cy="119.8" r="2.4"/>
<circle cx="156.9" cy="123.8" r="2.4"/>
<circle cx="159.8" cy="110.6" r="2.4"/>
<circle cx="161.0" cy="111.2" r="2.4"/>
<circle cx="165.6" cy="118.1" r="2.4"/>
<circle cx="167.3" cy="108.8" r="2.4"/>
<circle cx="166.2" cy="111.7" r="2.4"/>
<circle cx="170.8" cy="115.8" r="2.4"/>
<circle cx="173.1" cy="121.0" r="2.4"/>
<circle cx="177.1" cy="130.2" r="2.4"/>
<circle cx="177.1" cy="139.4" r="2.4"/>
<circle cx="167.9" cy="148.1" r="2.4"/>
<circle cx="175.4" cy="112.3" r="2.4"/>
<circle cx="174.2" cy="114.6" r="2.4"/>
<circle cx="176.5" cy="119.2" r="2.4"/>
<circle cx="177.7" cy="122.1" r="2.4"/>
<circle cx="158.1" cy="97.3" r="2.4"/>
<circle cx="163.8" cy="96.7" r="2.4"/>
<circle cx="169.6" cy="99.0" r="2.4"/>
<circle cx="165.6" cy="100.2" r="2.4"/>
<circle cx="177.7" cy="100.2" r="2.4"/>
<circle cx="153.5" cy="98.5" r="2.4"/>
<circle cx="216.0" cy="101.3" r="2.4"/>
<circle cx="220.6" cy="107.1" r="2.4"/>
<circle cx="209.0" cy="103.7" r="2.4"/>
<circle cx="183.1" cy="132.5" r="2.4"/>
<circle cx="193.5" cy="129.6" r="2.4"/>
<circle cx="199.2" cy="133.1" r="2.4"/>
<circle cx="205.9" cy="133.7" r="2.4"/>
<circle cx="203.8" cy="142.3" r="2.4"/>
<circle cx="218.3" cy="135.4" r="2.4"/>
<circle cx="228.1" cy="132.5" r="2.4"/>
<circle cx="218.8" cy="145.8" r="2.4"/>
<circle cx="229.2" cy="149.2" r="2.4"/>
<circle cx="217.7" cy="115.8" r="2.4"/>
<circle cx="227.5" cy="117.5" r="2.4"/>
<circle cx="230.4" cy="117.5" r="2.4"/>
<circle cx="220.6" cy="125.0" r="2.4"/>
<circle cx="224.6" cy="124.4" r="2.4"/>
<circle cx="227.5" cy="127.3" r="2.4"/>
<circle cx="211.3" cy="127.9" r="2.4"/>
<circle cx="208.5" cy="123.8" r="2.4"/>
<circle cx="199.2" cy="125.0" r="2.4"/>
<circle cx="195.2" cy="128.5" r="2.4"/>
<circle cx="201.5" cy="106.0" r="2.4"/>
<circle cx="196.3" cy="104.8" r="2.4"/>
<circle cx="191.2" cy="99.6" r="2.4"/>
<circle cx="211.9" cy="109.4" r="2.4"/>
<circle cx="208.5" cy="119.8" r="2.4"/>
<circle cx="178.7" cy="92.7" r="2.4"/>
<circle cx="183.8" cy="103.1" r="2.4"/>
<circle cx="187.3" cy="98.5" r="2.4"/>
<circle cx="163.7" cy="101.3" r="2.4"/>
<circle cx="167.7" cy="111.2" r="2.4"/>
<circle cx="149.2" cy="111.2" r="2.4"/>
<circle cx="171.2" cy="113.5" r="2.4"/>
<circle cx="173.5" cy="119.8" r="2.4"/>
<circle cx="177.5" cy="111.2" r="2.4"/>
<circle cx="179.8" cy="115.8" r="2.4"/>
<circle cx="178.1" cy="123.3" r="2.4"/>
<circle cx="182.1" cy="119.2" r="2.4"/>
<circle cx="186.2" cy="112.3" r="2.4"/>
<circle cx="187.3" cy="115.8" r="2.4"/>
<circle cx="190.8" cy="118.1" r="2.4"/>
<circle cx="189.0" cy="121.5" r="2.4"/>
<circle cx="194.2" cy="119.2" r="2.4"/>
<circle cx="196.5" cy="103.1" r="2.4"/>
<circle cx="195.4" cy="106.5" r="2.4"/>
<circle cx="189.6" cy="106.0" r="2.4"/>
<circle cx="185.0" cy="107.7" r="2.4"/>
<circle cx="174.6" cy="106.5" r="2.4"/>
<circle cx="171.2" cy="108.3" r="2.4"/>
<circle cx="196.5" cy="115.8" r="2.4"/>
<circle cx="192.5" cy="126.2" r="2.4"/>
<circle cx="221.7" cy="90.5" r="2.4"/>
<circle cx="211.6" cy="107.8" r="2.4"/>
<circle cx="213.6" cy="106.8" r="2.4"/>
<circle cx="200.6" cy="110.7" r="2.4"/>
<circle cx="206.8" cy="110.7" r="2.4"/>
<circle cx="191.9" cy="116.0" r="2.4"/>
<circle cx="195.8" cy="117.9" r="2.4"/>
<circle cx="201.5" cy="118.8" r="2.4"/>
<circle cx="207.8" cy="121.7" r="2.4"/>
<circle cx="213.1" cy="120.8" r="2.4"/>
<circle cx="222.7" cy="125.1" r="2.4"/>
<circle cx="228.5" cy="123.7" r="2.4"/>
<circle cx="197.2" cy="129.4" r="2.4"/>
<circle cx="200.1" cy="129.9" r="2.4"/>
<circle cx="217.9" cy="133.8" r="2.4"/>
</g>
<line x1="67.30" y1="74.90" x2="229.80" y2="122.70" stroke="#222" stroke-width="2.2"/>
<g fill="none" stroke="#adadad" stroke-width="1.0">
<circle cx="104.4" cy="531.5" r="2.35"/>
<circle cx="104.4" cy="547.7" r="2.35"/>
<circle cx="102.9" cy="556.1" r="2.35"/>
<circle cx="95.5" cy="562.9" r="2.35"/>
<circle cx="83.9" cy="569.0" r="2.35"/>
<circle cx="89.2" cy="586.7" r="2.35"/>
<circle cx="110.8" cy="590.2" r="2.35"/>
<circle cx="108.2" cy="576.5" r="2.35"/>
<circle cx="105.6" cy="570.8" r="2.35"/>
<circle cx="109.6" cy="570.8" r="2.35"/>
<circle cx="111.3" cy="573.1" r="2.35"/>
<circle cx="109.0" cy="562.1" r="2.35"/>
<circle cx="111.9" cy="561.0" r="2.35"/>
<circle cx="116.5" cy="580.0" r="2.35"/>
<circle cx="118.3" cy="552.9" r="2.35"/>
<circle cx="118.8" cy="569.6" r="2.35"/>
<circle cx="115.4" cy="563.3" r="2.35"/>
<circle cx="142.1" cy="492.5" r="2.35"/>
<circle cx="144.8" cy="504.8" r="2.35"/>
<circle cx="153.8" cy="510.2" r="2.35"/>
<circle cx="166.0" cy="507.9" r="2.35"/>
<circle cx="119.5" cy="514.8" r="2.35"/>
<circle cx="139.8" cy="525.0" r="2.35"/>
<circle cx="143.2" cy="526.7" r="2.35"/>
<circle cx="142.5" cy="529.6" r="2.35"/>
<circle cx="153.3" cy="523.3" r="2.35"/>
<circle cx="159.8" cy="524.8" r="2.35"/>
<circle cx="165.2" cy="523.8" r="2.35"/>
<circle cx="168.6" cy="521.5" r="2.35"/>
<circle cx="130.5" cy="530.8" r="2.35"/>
<circle cx="130.2" cy="536.5" r="2.35"/>
<circle cx="133.1" cy="537.1" r="2.35"/>
<circle cx="140.2" cy="535.2" r="2.35"/>
<circle cx="167.1" cy="529.6" r="2.35"/>
<circle cx="163.1" cy="531.3" r="2.35"/>
<circle cx="161.3" cy="535.4" r="2.35"/>
<circle cx="164.2" cy="536.5" r="2.35"/>
<circle cx="125.0" cy="539.4" r="2.35"/>
<circle cx="149.2" cy="538.8" r="2.35"/>
<circle cx="176.8" cy="520.7" r="2.35"/>
<circle cx="182.6" cy="521.2" r="2.35"/>
<circle cx="178.8" cy="525.5" r="2.35"/>
<circle cx="189.8" cy="523.1" r="2.35"/>
<circle cx="195.1" cy="530.8" r="2.35"/>
<circle cx="174.4" cy="531.3" r="2.35"/>
<circle cx="173.0" cy="533.7" r="2.35"/>
<circle cx="182.1" cy="538.5" r="2.35"/>
<circle cx="182.6" cy="541.3" r="2.35"/>
<circle cx="188.8" cy="539.9" r="2.35"/>
<circle cx="175.9" cy="542.8" r="2.35"/>
<circle cx="176.8" cy="545.2" r="2.35"/>
<circle cx="171.1" cy="542.3" r="2.35"/>
<circle cx="166.7" cy="544.7" r="2.35"/>
<circle cx="163.4" cy="547.6" r="2.35"/>
<circle cx="170.1" cy="549.5" r="2.35"/>
<circle cx="177.3" cy="552.4" r="2.35"/>
<circle cx="174.4" cy="557.7" r="2.35"/>
<circle cx="161.4" cy="555.8" r="2.35"/>
<circle cx="161.0" cy="524.0" r="2.35"/>
<circle cx="137.0" cy="539.5" r="2.35"/>
<circle cx="141.7" cy="531.1" r="2.35"/>
<circle cx="124.8" cy="541.6" r="2.35"/>
<circle cx="148.6" cy="540.1" r="2.35"/>
<circle cx="153.4" cy="541.1" r="2.35"/>
<circle cx="159.7" cy="536.3" r="2.35"/>
<circle cx="161.9" cy="534.2" r="2.35"/>
<circle cx="133.3" cy="545.9" r="2.35"/>
<circle cx="136.5" cy="545.3" r="2.35"/>
<circle cx="129.0" cy="549.0" r="2.35"/>
<circle cx="123.8" cy="549.6" r="2.35"/>
<circle cx="122.7" cy="554.3" r="2.35"/>
<circle cx="126.9" cy="553.8" r="2.35"/>
<circle cx="131.7" cy="551.2" r="2.35"/>
<circle cx="138.0" cy="548.5" r="2.35"/>
<circle cx="141.7" cy="547.5" r="2.35"/>
<circle cx="146.5" cy="550.6" r="2.35"/>
<circle cx="149.2" cy="548.0" r="2.35"/>
<circle cx="152.3" cy="546.9" r="2.35"/>
<circle cx="156.6" cy="544.8" r="2.35"/>
<circle cx="160.8" cy="543.8" r="2.35"/>
<circle cx="158.7" cy="549.6" r="2.35"/>
<circle cx="154.4" cy="552.8" r="2.35"/>
<circle cx="150.2" cy="554.9" r="2.35"/>
<circle cx="146.0" cy="556.5" r="2.35"/>
<circle cx="141.7" cy="557.5" r="2.35"/>
<circle cx="137.5" cy="557.0" r="2.35"/>
<circle cx="133.3" cy="558.6" r="2.35"/>
<circle cx="129.0" cy="557.5" r="2.35"/>
<circle cx="124.8" cy="561.7" r="2.35"/>
<circle cx="120.6" cy="560.2" r="2.35"/>
<circle cx="116.3" cy="558.6" r="2.35"/>
<circle cx="113.7" cy="563.9" r="2.35"/>
<circle cx="119.5" cy="566.0" r="2.35"/>
<circle cx="124.8" cy="566.5" r="2.35"/>
<circle cx="131.2" cy="564.9" r="2.35"/>
<circle cx="135.4" cy="566.0" r="2.35"/>
<circle cx="137.5" cy="561.7" r="2.35"/>
<circle cx="141.7" cy="562.8" r="2.35"/>
<circle cx="147.6" cy="560.7" r="2.35"/>
<circle cx="152.3" cy="558.6" r="2.35"/>
<circle cx="156.6" cy="557.5" r="2.35"/>
<circle cx="155.5" cy="560.7" r="2.35"/>
<circle cx="149.2" cy="561.7" r="2.35"/>
<circle cx="123.8" cy="573.4" r="2.35"/>
<circle cx="130.1" cy="574.4" r="2.35"/>
<circle cx="132.2" cy="569.7" r="2.35"/>
<circle cx="136.5" cy="571.8" r="2.35"/>
<circle cx="116.3" cy="578.7" r="2.35"/>
<circle cx="121.9" cy="583.5" r="2.35"/>
<circle cx="138.8" cy="588.5" r="2.35"/>
<circle cx="173.5" cy="565.0" r="2.35"/>
<circle cx="137.3" cy="565.8" r="2.35"/>
<circle cx="124.2" cy="564.2" r="2.35"/>
<circle cx="127.3" cy="561.2" r="2.35"/>
<circle cx="162.7" cy="556.3" r="2.35"/>
<circle cx="160.4" cy="552.3" r="2.35"/>
<circle cx="155.8" cy="553.5" r="2.35"/>
<circle cx="152.3" cy="550.0" r="2.35"/>
</g>
<line x1="84.20" y1="573.90" x2="193.70" y2="530.30" stroke="#222" stroke-width="2.2"/>
<g fill="none" stroke="#adadad" stroke-width="1.0">
<circle cx="438.6" cy="538.6" r="2.35"/>
<circle cx="465.3" cy="538.7" r="2.35"/>
<circle cx="419.6" cy="512.7" r="2.35"/>
<circle cx="407.2" cy="554.9" r="2.35"/>
<circle cx="450.4" cy="505.8" r="2.35"/>
<circle cx="403.5" cy="558.4" r="2.35"/>
<circle cx="397.8" cy="550.9" r="2.35"/>
<circle cx="458.7" cy="518.5" r="2.35"/>
<circle cx="413.4" cy="536.7" r="2.35"/>
<circle cx="413.5" cy="514.7" r="2.35"/>
<circle cx="409.9" cy="527.8" r="2.35"/>
<circle cx="452.7" cy="552.7" r="2.35"/>
<circle cx="415.4" cy="535.1" r="2.35"/>
<circle cx="400.2" cy="563.9" r="2.35"/>
<circle cx="407.5" cy="519.9" r="2.35"/>
<circle cx="394.0" cy="540.2" r="2.35"/>
<circle cx="388.5" cy="560.0" r="2.35"/>
<circle cx="431.9" cy="562.5" r="2.35"/>
<circle cx="429.1" cy="519.7" r="2.35"/>
<circle cx="413.2" cy="510.1" r="2.35"/>
<circle cx="428.5" cy="527.3" r="2.35"/>
<circle cx="454.3" cy="499.1" r="2.35"/>
<circle cx="439.7" cy="550.4" r="2.35"/>
<circle cx="394.9" cy="555.2" r="2.35"/>
<circle cx="462.1" cy="527.4" r="2.35"/>
<circle cx="422.8" cy="517.6" r="2.35"/>
<circle cx="428.0" cy="520.9" r="2.35"/>
<circle cx="414.8" cy="543.7" r="2.35"/>
<circle cx="437.0" cy="550.2" r="2.35"/>
<circle cx="407.7" cy="524.5" r="2.35"/>
<circle cx="405.9" cy="555.3" r="2.35"/>
<circle cx="399.2" cy="542.3" r="2.35"/>
<circle cx="436.2" cy="552.6" r="2.35"/>
<circle cx="443.1" cy="555.7" r="2.35"/>
<circle cx="465.2" cy="540.9" r="2.35"/>
<circle cx="430.4" cy="536.8" r="2.35"/>
<circle cx="461.9" cy="524.1" r="2.35"/>
<circle cx="446.6" cy="505.1" r="2.35"/>
<circle cx="436.5" cy="521.3" r="2.35"/>
<circle cx="439.5" cy="544.4" r="2.35"/>
<circle cx="421.8" cy="544.1" r="2.35"/>
<circle cx="435.1" cy="501.1" r="2.35"/>
<circle cx="410.6" cy="510.4" r="2.35"/>
<circle cx="420.0" cy="519.8" r="2.35"/>
<circle cx="406.5" cy="555.8" r="2.35"/>
<circle cx="411.2" cy="528.0" r="2.35"/>
<circle cx="433.1" cy="503.3" r="2.35"/>
<circle cx="434.3" cy="556.5" r="2.35"/>
<circle cx="451.8" cy="540.3" r="2.35"/>
<circle cx="441.8" cy="532.0" r="2.35"/>
<circle cx="435.4" cy="520.4" r="2.35"/>
<circle cx="391.0" cy="533.1" r="2.35"/>
<circle cx="434.9" cy="557.3" r="2.35"/>
<circle cx="405.4" cy="516.2" r="2.35"/>
<circle cx="437.7" cy="514.2" r="2.35"/>
<circle cx="422.2" cy="518.1" r="2.35"/>
<circle cx="410.6" cy="531.4" r="2.35"/>
<circle cx="422.2" cy="511.3" r="2.35"/>
<circle cx="407.0" cy="555.6" r="2.35"/>
<circle cx="432.8" cy="525.2" r="2.35"/>
<circle cx="447.1" cy="503.0" r="2.35"/>
<circle cx="427.8" cy="523.0" r="2.35"/>
<circle cx="422.8" cy="517.1" r="2.35"/>
<circle cx="425.1" cy="554.2" r="2.35"/>
<circle cx="380.7" cy="549.5" r="2.35"/>
<circle cx="437.3" cy="539.2" r="2.35"/>
<circle cx="417.3" cy="521.5" r="2.35"/>
<circle cx="413.7" cy="553.4" r="2.35"/>
<circle cx="441.6" cy="530.8" r="2.35"/>
<circle cx="457.6" cy="507.6" r="2.35"/>
<circle cx="428.1" cy="522.4" r="2.35"/>
<circle cx="453.5" cy="507.9" r="2.35"/>
<circle cx="455.8" cy="541.2" r="2.35"/>
<circle cx="444.5" cy="499.4" r="2.35"/>
<circle cx="438.2" cy="557.4" r="2.35"/>
<circle cx="410.6" cy="560.1" r="2.35"/>
<circle cx="418.0" cy="507.7" r="2.35"/>
<circle cx="433.6" cy="544.4" r="2.35"/>
<circle cx="417.3" cy="516.1" r="2.35"/>
<circle cx="468.1" cy="523.5" r="2.35"/>
<circle cx="389.4" cy="538.2" r="2.35"/>
<circle cx="430.4" cy="541.5" r="2.35"/>
<circle cx="403.3" cy="545.9" r="2.35"/>
<circle cx="403.0" cy="519.9" r="2.35"/>
<circle cx="448.2" cy="542.2" r="2.35"/>
<circle cx="436.5" cy="510.9" r="2.35"/>
<circle cx="415.5" cy="549.9" r="2.35"/>
<circle cx="451.6" cy="505.0" r="2.35"/>
<circle cx="401.1" cy="517.5" r="2.35"/>
<circle cx="418.3" cy="502.9" r="2.35"/>
<circle cx="454.3" cy="522.8" r="2.35"/>
<circle cx="433.8" cy="531.7" r="2.35"/>
<circle cx="459.5" cy="528.7" r="2.35"/>
<circle cx="421.1" cy="552.8" r="2.35"/>
<circle cx="424.0" cy="505.8" r="2.35"/>
<circle cx="416.5" cy="521.5" r="2.35"/>
<circle cx="406.2" cy="517.9" r="2.35"/>
<circle cx="409.9" cy="530.2" r="2.35"/>
<circle cx="413.0" cy="553.9" r="2.35"/>
<circle cx="426.9" cy="561.5" r="2.35"/>
<circle cx="407.8" cy="539.4" r="2.35"/>
<circle cx="415.8" cy="562.3" r="2.35"/>
<circle cx="422.7" cy="511.4" r="2.35"/>
<circle cx="438.9" cy="555.7" r="2.35"/>
<circle cx="387.5" cy="548.4" r="2.35"/>
<circle cx="428.6" cy="521.0" r="2.35"/>
<circle cx="461.2" cy="529.0" r="2.35"/>
<circle cx="404.6" cy="525.0" r="2.35"/>
<circle cx="395.4" cy="532.7" r="2.35"/>
<circle cx="395.9" cy="530.8" r="2.35"/>
<circle cx="460.4" cy="512.1" r="2.35"/>
<circle cx="421.8" cy="537.5" r="2.35"/>
<circle cx="410.4" cy="524.8" r="2.35"/>
<circle cx="391.6" cy="545.1" r="2.35"/>
<circle cx="419.9" cy="536.0" r="2.35"/>
<circle cx="444.0" cy="503.4" r="2.35"/>
<circle cx="412.9" cy="505.6" r="2.35"/>
<circle cx="451.2" cy="530.9" r="2.35"/>
<circle cx="443.2" cy="536.7" r="2.35"/>
<circle cx="445.0" cy="548.3" r="2.35"/>
<circle cx="417.6" cy="507.1" r="2.35"/>
<circle cx="405.3" cy="542.3" r="2.35"/>
<circle cx="449.6" cy="533.8" r="2.35"/>
<circle cx="433.1" cy="514.0" r="2.35"/>
<circle cx="433.1" cy="549.6" r="2.35"/>
<circle cx="427.8" cy="505.8" r="2.35"/>
<circle cx="458.7" cy="528.8" r="2.35"/>
<circle cx="435.5" cy="501.8" r="2.35"/>
<circle cx="422.8" cy="555.7" r="2.35"/>
<circle cx="404.2" cy="509.8" r="2.35"/>
<circle cx="446.2" cy="515.3" r="2.35"/>
<circle cx="454.7" cy="538.5" r="2.35"/>
<circle cx="456.3" cy="529.8" r="2.35"/>
<circle cx="393.1" cy="542.8" r="2.35"/>
<circle cx="449.1" cy="513.3" r="2.35"/>
<circle cx="436.3" cy="549.5" r="2.35"/>
<circle cx="428.2" cy="538.3" r="2.35"/>
<circle cx="405.2" cy="523.2" r="2.35"/>
<circle cx="420.0" cy="554.6" r="2.35"/>
<circle cx="437.4" cy="539.7" r="2.35"/>
<circle cx="412.6" cy="532.7" r="2.35"/>
<circle cx="432.3" cy="544.1" r="2.35"/>
<circle cx="462.7" cy="514.4" r="2.35"/>
<circle cx="454.0" cy="539.2" r="2.35"/>
<circle cx="441.8" cy="547.5" r="2.35"/>
<circle cx="402.7" cy="529.7" r="2.35"/>
<circle cx="412.9" cy="504.1" r="2.35"/>
<circle cx="460.2" cy="538.2" r="2.35"/>
<circle cx="441.6" cy="530.6" r="2.35"/>
<circle cx="458.5" cy="513.8" r="2.35"/>
<circle cx="438.6" cy="559.1" r="2.35"/>
<circle cx="452.5" cy="513.9" r="2.35"/>
<circle cx="442.3" cy="526.3" r="2.35"/>
<circle cx="460.0" cy="521.4" r="2.35"/>
<circle cx="467.6" cy="510.3" r="2.35"/>
<circle cx="432.2" cy="538.4" r="2.35"/>
<circle cx="432.4" cy="534.9" r="2.35"/>
<circle cx="406.2" cy="547.0" r="2.35"/>
<circle cx="404.5" cy="539.7" r="2.35"/>
<circle cx="400.1" cy="540.5" r="2.35"/>
<circle cx="447.9" cy="545.8" r="2.35"/>
<circle cx="413.1" cy="522.9" r="2.35"/>
<circle cx="432.7" cy="524.7" r="2.35"/>
<circle cx="407.5" cy="542.0" r="2.35"/>
<circle cx="464.6" cy="497.8" r="2.35"/>
<circle cx="423.7" cy="514.0" r="2.35"/>
<circle cx="411.2" cy="516.6" r="2.35"/>
<circle cx="450.1" cy="537.5" r="2.35"/>
<circle cx="458.9" cy="532.2" r="2.35"/>
<circle cx="405.6" cy="541.7" r="2.35"/>
<circle cx="418.6" cy="559.3" r="2.35"/>
<circle cx="451.1" cy="521.3" r="2.35"/>
<circle cx="421.4" cy="522.4" r="2.35"/>
<circle cx="398.6" cy="561.6" r="2.35"/>
<circle cx="422.6" cy="504.6" r="2.35"/>
<circle cx="423.9" cy="533.5" r="2.35"/>
<circle cx="442.8" cy="501.1" r="2.35"/>
<circle cx="421.6" cy="548.0" r="2.35"/>
<circle cx="388.7" cy="551.8" r="2.35"/>
<circle cx="416.8" cy="515.8" r="2.35"/>
<circle cx="441.9" cy="508.8" r="2.35"/>
<circle cx="435.1" cy="513.4" r="2.35"/>
<circle cx="464.9" cy="502.9" r="2.35"/>
<circle cx="402.3" cy="550.0" r="2.35"/>
<circle cx="400.7" cy="530.4" r="2.35"/>
<circle cx="436.0" cy="524.5" r="2.35"/>
<circle cx="403.4" cy="538.1" r="2.35"/>
<circle cx="441.2" cy="507.1" r="2.35"/>
<circle cx="380.6" cy="549.1" r="2.35"/>
<circle cx="438.8" cy="550.0" r="2.35"/>
<circle cx="404.8" cy="521.2" r="2.35"/>
<circle cx="413.2" cy="525.1" r="2.35"/>
<circle cx="410.0" cy="508.2" r="2.35"/>
<circle cx="418.7" cy="544.6" r="2.35"/>
<circle cx="457.2" cy="515.3" r="2.35"/>
<circle cx="426.4" cy="537.4" r="2.35"/>
<circle cx="414.7" cy="506.7" r="2.35"/>
<circle cx="406.6" cy="545.8" r="2.35"/>
<circle cx="451.1" cy="540.8" r="2.35"/>
<circle cx="406.4" cy="512.6" r="2.35"/>
<circle cx="460.8" cy="510.1" r="2.35"/>
<circle cx="447.5" cy="534.0" r="2.35"/>
<circle cx="454.5" cy="529.0" r="2.35"/>
<circle cx="432.9" cy="501.5" r="2.35"/>
<circle cx="437.0" cy="511.7" r="2.35"/>
<circle cx="389.4" cy="542.4" r="2.35"/>
<circle cx="426.3" cy="536.5" r="2.35"/>
<circle cx="389.8" cy="537.9" r="2.35"/>
<circle cx="447.8" cy="514.7" r="2.35"/>
<circle cx="450.9" cy="529.1" r="2.35"/>
<circle cx="406.0" cy="559.8" r="2.35"/>
<circle cx="409.6" cy="505.0" r="2.35"/>
<circle cx="441.2" cy="511.9" r="2.35"/>
<circle cx="436.2" cy="523.7" r="2.35"/>
<circle cx="428.6" cy="530.1" r="2.35"/>
<circle cx="441.2" cy="519.3" r="2.35"/>
<circle cx="407.1" cy="519.4" r="2.35"/>
<circle cx="438.6" cy="538.6" r="2.35"/>
<circle cx="452.6" cy="522.1" r="2.35"/>
<circle cx="463.3" cy="537.8" r="2.35"/>
<circle cx="415.7" cy="536.4" r="2.35"/>
<circle cx="419.0" cy="519.7" r="2.35"/>
<circle cx="445.4" cy="523.5" r="2.35"/>
<circle cx="413.9" cy="507.7" r="2.35"/>
<circle cx="462.6" cy="532.3" r="2.35"/>
<circle cx="434.4" cy="518.8" r="2.35"/>
<circle cx="423.3" cy="503.1" r="2.35"/>
<circle cx="433.0" cy="503.1" r="2.35"/>
<circle cx="413.0" cy="512.9" r="2.35"/>
<circle cx="413.1" cy="510.8" r="2.35"/>
<circle cx="426.8" cy="517.3" r="2.35"/>
<circle cx="418.1" cy="541.2" r="2.35"/>
<circle cx="447.4" cy="524.4" r="2.35"/>
<circle cx="407.6" cy="549.5" r="2.35"/>
<circle cx="417.6" cy="553.3" r="2.35"/>
<circle cx="432.4" cy="550.9" r="2.35"/>
<circle cx="421.8" cy="527.9" r="2.35"/>
<circle cx="407.1" cy="542.8" r="2.35"/>
<circle cx="439.0" cy="541.2" r="2.35"/>
<circle cx="428.3" cy="527.2" r="2.35"/>
<circle cx="428.3" cy="520.1" r="2.35"/>
<circle cx="431.4" cy="525.4" r="2.35"/>
<circle cx="452.0" cy="532.0" r="2.35"/>
<circle cx="428.4" cy="524.3" r="2.35"/>
<circle cx="436.8" cy="533.9" r="2.35"/>
<circle cx="418.1" cy="534.1" r="2.35"/>
<circle cx="443.0" cy="522.7" r="2.35"/>
<circle cx="439.9" cy="542.8" r="2.35"/>
<circle cx="416.2" cy="559.8" r="2.35"/>
<circle cx="438.5" cy="522.6" r="2.35"/>
<circle cx="410.2" cy="532.3" r="2.35"/>
<circle cx="429.1" cy="508.0" r="2.35"/>
<circle cx="441.0" cy="529.6" r="2.35"/>
<circle cx="416.8" cy="535.9" r="2.35"/>
<circle cx="422.2" cy="535.8" r="2.35"/>
<circle cx="436.1" cy="522.0" r="2.35"/>
<circle cx="446.7" cy="534.9" r="2.35"/>
<circle cx="427.3" cy="541.6" r="2.35"/>
<circle cx="421.1" cy="539.4" r="2.35"/>
<circle cx="443.0" cy="546.7" r="2.35"/>
<circle cx="426.7" cy="534.2" r="2.35"/>
<circle cx="427.6" cy="533.3" r="2.35"/>
<circle cx="422.0" cy="557.6" r="2.35"/>
<circle cx="417.3" cy="534.9" r="2.35"/>
<circle cx="421.6" cy="545.6" r="2.35"/>
<circle cx="442.5" cy="530.6" r="2.35"/>
<circle cx="423.3" cy="527.2" r="2.35"/>
<circle cx="437.4" cy="528.9" r="2.35"/>
<circle cx="454.3" cy="517.7" r="2.35"/>
<circle cx="406.8" cy="527.8" r="2.35"/>
<circle cx="407.2" cy="552.7" r="2.35"/>
<circle cx="427.5" cy="523.4" r="2.35"/>
<circle cx="409.0" cy="548.4" r="2.35"/>
<circle cx="424.3" cy="539.4" r="2.35"/>
<circle cx="424.4" cy="528.9" r="2.35"/>
<circle cx="405.6" cy="548.7" r="2.35"/>
<circle cx="430.1" cy="535.7" r="2.35"/>
<circle cx="444.6" cy="535.5" r="2.35"/>
<circle cx="424.1" cy="543.2" r="2.35"/>
<circle cx="402.2" cy="556.2" r="2.35"/>
<circle cx="432.1" cy="543.3" r="2.35"/>
<circle cx="437.0" cy="520.3" r="2.35"/>
<circle cx="431.2" cy="544.8" r="2.35"/>
<circle cx="421.1" cy="539.6" r="2.35"/>
<circle cx="422.5" cy="544.1" r="2.35"/>
<circle cx="428.3" cy="526.3" r="2.35"/>
<circle cx="399.4" cy="527.7" r="2.35"/>
<circle cx="437.3" cy="525.2" r="2.35"/>
<circle cx="416.5" cy="535.9" r="2.35"/>
<circle cx="418.8" cy="547.2" r="2.35"/>
<circle cx="426.5" cy="512.6" r="2.35"/>
<circle cx="428.1" cy="536.1" r="2.35"/>
<circle cx="424.2" cy="538.2" r="2.35"/>
<circle cx="451.7" cy="525.3" r="2.35"/>
<circle cx="448.4" cy="534.4" r="2.35"/>
<circle cx="415.7" cy="560.2" r="2.35"/>
<circle cx="429.6" cy="531.2" r="2.35"/>
<circle cx="449.1" cy="546.7" r="2.35"/>
<circle cx="414.6" cy="535.3" r="2.35"/>
<circle cx="425.1" cy="518.2" r="2.35"/>
<circle cx="413.5" cy="543.6" r="2.35"/>
<circle cx="440.5" cy="533.9" r="2.35"/>
<circle cx="444.1" cy="537.5" r="2.35"/>
<circle cx="420.7" cy="535.4" r="2.35"/>
<circle cx="422.5" cy="534.7" r="2.35"/>
<circle cx="446.8" cy="533.8" r="2.35"/>
<circle cx="402.7" cy="554.0" r="2.35"/>
<circle cx="409.0" cy="533.8" r="2.35"/>
<circle cx="451.2" cy="536.1" r="2.35"/>
<circle cx="446.8" cy="531.8" r="2.35"/>
<circle cx="447.4" cy="512.5" r="2.35"/>
<circle cx="436.3" cy="523.4" r="2.35"/>
<circle cx="412.7" cy="526.3" r="2.35"/>
<circle cx="456.4" cy="538.1" r="2.35"/>
<circle cx="437.4" cy="523.8" r="2.35"/>
<circle cx="425.9" cy="525.2" r="2.35"/>
<circle cx="431.3" cy="549.2" r="2.35"/>
<circle cx="452.8" cy="528.6" r="2.35"/>
<circle cx="438.2" cy="528.2" r="2.35"/>
<circle cx="432.4" cy="531.0" r="2.35"/>
<circle cx="432.0" cy="526.3" r="2.35"/>
<circle cx="440.7" cy="525.7" r="2.35"/>
<circle cx="430.4" cy="532.4" r="2.35"/>
<circle cx="452.9" cy="531.0" r="2.35"/>
<circle cx="413.4" cy="533.3" r="2.35"/>
<circle cx="436.5" cy="531.6" r="2.35"/>
<circle cx="426.1" cy="538.5" r="2.35"/>
<circle cx="450.0" cy="522.1" r="2.35"/>
<circle cx="445.3" cy="520.5" r="2.35"/>
<circle cx="426.5" cy="539.2" r="2.35"/>
<circle cx="425.1" cy="531.6" r="2.35"/>
<circle cx="412.5" cy="540.2" r="2.35"/>
<circle cx="422.9" cy="538.0" r="2.35"/>
<circle cx="444.6" cy="531.5" r="2.35"/>
<circle cx="444.8" cy="528.2" r="2.35"/>
<circle cx="437.1" cy="536.7" r="2.35"/>
<circle cx="442.5" cy="537.8" r="2.35"/>
<circle cx="422.9" cy="542.5" r="2.35"/>
<circle cx="436.5" cy="543.3" r="2.35"/>
<circle cx="437.2" cy="524.2" r="2.35"/>
<circle cx="437.2" cy="537.6" r="2.35"/>
<circle cx="434.7" cy="544.7" r="2.35"/>
<circle cx="426.4" cy="522.9" r="2.35"/>
<circle cx="436.0" cy="539.0" r="2.35"/>
<circle cx="420.8" cy="546.5" r="2.35"/>
<circle cx="400.6" cy="571.4" r="2.35"/>
<circle cx="407.6" cy="541.4" r="2.35"/>
<circle cx="417.9" cy="526.1" r="2.35"/>
<circle cx="428.4" cy="525.5" r="2.35"/>
<circle cx="400.3" cy="526.4" r="2.35"/>
<circle cx="442.7" cy="539.3" r="2.35"/>
<circle cx="425.5" cy="538.8" r="2.35"/>
<circle cx="451.3" cy="526.5" r="2.35"/>
<circle cx="448.1" cy="534.6" r="2.35"/>
<circle cx="440.6" cy="533.8" r="2.35"/>
<circle cx="445.2" cy="528.1" r="2.35"/>
<circle cx="427.1" cy="528.3" r="2.35"/>
<circle cx="396.8" cy="542.9" r="2.35"/>
<circle cx="428.7" cy="545.8" r="2.35"/>
<circle cx="415.2" cy="521.8" r="2.35"/>
<circle cx="443.0" cy="539.9" r="2.35"/>
<circle cx="434.1" cy="535.1" r="2.35"/>
<circle cx="432.0" cy="532.4" r="2.35"/>
<circle cx="443.7" cy="518.1" r="2.35"/>
<circle cx="412.2" cy="528.8" r="2.35"/>
<circle cx="418.8" cy="533.2" r="2.35"/>
<circle cx="420.7" cy="541.4" r="2.35"/>
<circle cx="436.6" cy="516.4" r="2.35"/>
<circle cx="427.2" cy="528.5" r="2.35"/>
<circle cx="417.7" cy="536.3" r="2.35"/>
<circle cx="426.5" cy="519.4" r="2.35"/>
<circle cx="448.4" cy="523.3" r="2.35"/>
<circle cx="411.9" cy="527.6" r="2.35"/>
<circle cx="445.9" cy="532.8" r="2.35"/>
<circle cx="441.2" cy="529.8" r="2.35"/>
<circle cx="458.8" cy="534.8" r="2.35"/>
<circle cx="458.9" cy="522.1" r="2.35"/>
<circle cx="439.8" cy="525.0" r="2.35"/>
<circle cx="428.9" cy="531.6" r="2.35"/>
<circle cx="429.7" cy="535.2" r="2.35"/>
<circle cx="344.7" cy="519.3" r="2.35"/>
<circle cx="384.9" cy="491.8" r="2.35"/>
<circle cx="401.3" cy="499.4" r="2.35"/>
<circle cx="407.4" cy="481.7" r="2.35"/>
<circle cx="385.8" cy="520.7" r="2.35"/>
<circle cx="347.7" cy="560.5" r="2.35"/>
<circle cx="346.5" cy="588.7" r="2.35"/>
<circle cx="365.9" cy="560.1" r="2.35"/>
<circle cx="380.2" cy="535.0" r="2.35"/>
<circle cx="381.4" cy="541.4" r="2.35"/>
<circle cx="376.6" cy="546.6" r="2.35"/>
<circle cx="384.9" cy="545.8" r="2.35"/>
<circle cx="379.7" cy="567.4" r="2.35"/>
<circle cx="387.0" cy="568.6" r="2.35"/>
<circle cx="383.2" cy="561.0" r="2.35"/>
<circle cx="382.0" cy="554.4" r="2.35"/>
<circle cx="396.2" cy="582.1" r="2.35"/>
<circle cx="399.6" cy="578.6" r="2.35"/>
<circle cx="397.9" cy="567.1" r="2.35"/>
<circle cx="393.6" cy="565.7" r="2.35"/>
<circle cx="395.3" cy="562.2" r="2.35"/>
<circle cx="402.7" cy="526.7" r="2.35"/>
<circle cx="400.5" cy="530.2" r="2.35"/>
<circle cx="391.0" cy="535.4" r="2.35"/>
<circle cx="432.6" cy="489.2" r="2.35"/>
<circle cx="461.9" cy="491.9" r="2.35"/>
<circle cx="474.6" cy="525.8" r="2.35"/>
<circle cx="479.2" cy="518.0" r="2.35"/>
<circle cx="476.9" cy="540.4" r="2.35"/>
<circle cx="478.1" cy="543.4" r="2.35"/>
<circle cx="467.7" cy="548.5" r="2.35"/>
<circle cx="471.2" cy="550.3" r="2.35"/>
<circle cx="455.7" cy="551.9" r="2.35"/>
<circle cx="427.3" cy="561.9" r="2.35"/>
<circle cx="414.6" cy="566.9" r="2.35"/>
<circle cx="415.8" cy="585.4" r="2.35"/>
<circle cx="386.9" cy="568.1" r="2.35"/>
<circle cx="397.3" cy="566.9" r="2.35"/>
</g>
<line x1="345.10" y1="566.00" x2="478.75" y2="516.25" stroke="#222" stroke-width="2.2"/>
<path d="M131.0 755.5C131.0 751.7 136.0 744.7 140.0 740.5C144.0 736.3 149.8 733.3 155.0 730.5C160.2 727.7 166.2 725.0 171.0 723.5C175.8 722.0 180.8 720.5 184.0 721.5C187.2 722.5 189.3 725.8 190.0 729.5C190.7 733.2 190.2 739.5 188.0 743.5C185.8 747.5 182.0 750.7 177.0 753.5C172.0 756.3 164.2 758.8 158.0 760.5C151.8 762.2 144.5 764.3 140.0 763.5C135.5 762.7 131.0 759.3 131.0 755.5Z" fill="#9a9a9a"/>
<g fill="none" stroke="#979797" stroke-width="1.15">
<circle cx="156.2" cy="751.5" r="3.0"/>
<circle cx="153.8" cy="743.6" r="3.0"/>
<circle cx="138.5" cy="750.8" r="3.0"/>
<circle cx="186.4" cy="738.5" r="3.0"/>
<circle cx="184.0" cy="737.6" r="3.0"/>
<circle cx="169.5" cy="742.7" r="3.0"/>
<circle cx="126.1" cy="767.3" r="3.0"/>
<circle cx="173.1" cy="744.6" r="3.0"/>
<circle cx="115.8" cy="743.4" r="3.0"/>
<circle cx="138.4" cy="748.1" r="3.0"/>
<circle cx="166.6" cy="741.4" r="3.0"/>
<circle cx="169.2" cy="733.9" r="3.0"/>
<circle cx="168.3" cy="745.4" r="3.0"/>
<circle cx="151.6" cy="766.3" r="3.0"/>
<circle cx="176.8" cy="750.7" r="3.0"/>
<circle cx="143.4" cy="743.2" r="3.0"/>
<circle cx="151.9" cy="746.6" r="3.0"/>
<circle cx="175.0" cy="741.2" r="3.0"/>
<circle cx="146.5" cy="739.6" r="3.0"/>
<circle cx="152.9" cy="760.5" r="3.0"/>
<circle cx="142.9" cy="754.0" r="3.0"/>
<circle cx="164.0" cy="726.9" r="3.0"/>
<circle cx="165.9" cy="756.2" r="3.0"/>
<circle cx="113.9" cy="759.5" r="3.0"/>
<circle cx="154.6" cy="737.9" r="3.0"/>
<circle cx="170.9" cy="739.5" r="3.0"/>
<circle cx="130.4" cy="765.2" r="3.0"/>
<circle cx="178.4" cy="747.3" r="3.0"/>
<circle cx="193.4" cy="735.0" r="3.0"/>
<circle cx="157.8" cy="731.4" r="3.0"/>
<circle cx="171.4" cy="733.3" r="3.0"/>
<circle cx="145.2" cy="736.8" r="3.0"/>
<circle cx="136.5" cy="748.2" r="3.0"/>
<circle cx="181.2" cy="714.1" r="3.0"/>
<circle cx="128.4" cy="759.7" r="3.0"/>
<circle cx="194.3" cy="737.0" r="3.0"/>
<circle cx="165.2" cy="734.5" r="3.0"/>
<circle cx="138.7" cy="763.6" r="3.0"/>
<circle cx="185.1" cy="736.1" r="3.0"/>
<circle cx="167.1" cy="746.3" r="3.0"/>
<circle cx="197.8" cy="736.0" r="3.0"/>
<circle cx="173.6" cy="745.0" r="3.0"/>
<circle cx="129.8" cy="770.4" r="3.0"/>
<circle cx="183.2" cy="740.9" r="3.0"/>
<circle cx="113.7" cy="756.2" r="3.0"/>
<circle cx="172.0" cy="720.2" r="3.0"/>
<circle cx="159.7" cy="755.6" r="3.0"/>
<circle cx="136.8" cy="771.1" r="3.0"/>
<circle cx="171.7" cy="738.2" r="3.0"/>
<circle cx="169.7" cy="747.6" r="3.0"/>
<circle cx="166.9" cy="754.1" r="3.0"/>
<circle cx="143.7" cy="746.5" r="3.0"/>
<circle cx="183.3" cy="735.5" r="3.0"/>
<circle cx="143.9" cy="761.1" r="3.0"/>
<circle cx="191.0" cy="727.3" r="3.0"/>
<circle cx="128.7" cy="755.5" r="3.0"/>
<circle cx="155.6" cy="743.1" r="3.0"/>
<circle cx="187.5" cy="722.4" r="3.0"/>
<circle cx="183.4" cy="721.5" r="3.0"/>
<circle cx="144.8" cy="757.4" r="3.0"/>
<circle cx="188.3" cy="742.4" r="3.0"/>
<circle cx="168.2" cy="742.7" r="3.0"/>
<circle cx="165.5" cy="748.5" r="3.0"/>
<circle cx="157.1" cy="748.6" r="3.0"/>
<circle cx="172.8" cy="739.4" r="3.0"/>
<circle cx="179.1" cy="742.9" r="3.0"/>
<circle cx="206.0" cy="729.6" r="3.0"/>
<circle cx="149.1" cy="744.9" r="3.0"/>
<circle cx="163.1" cy="753.2" r="3.0"/>
<circle cx="153.9" cy="751.1" r="3.0"/>
<circle cx="191.4" cy="704.3" r="3.0"/>
<circle cx="135.9" cy="756.8" r="3.0"/>
<circle cx="169.8" cy="743.2" r="3.0"/>
<circle cx="152.8" cy="754.4" r="3.0"/>
<circle cx="164.3" cy="737.1" r="3.0"/>
<circle cx="147.3" cy="748.5" r="3.0"/>
<circle cx="154.7" cy="745.9" r="3.0"/>
<circle cx="178.1" cy="724.7" r="3.0"/>
<circle cx="162.1" cy="753.9" r="3.0"/>
<circle cx="184.6" cy="750.7" r="3.0"/>
<circle cx="120.8" cy="756.4" r="3.0"/>
<circle cx="154.7" cy="753.3" r="3.0"/>
<circle cx="174.4" cy="709.9" r="3.0"/>
<circle cx="178.9" cy="721.4" r="3.0"/>
<circle cx="169.7" cy="724.6" r="3.0"/>
<circle cx="168.4" cy="754.0" r="3.0"/>
<circle cx="157.4" cy="747.6" r="3.0"/>
<circle cx="178.3" cy="738.7" r="3.0"/>
<circle cx="163.7" cy="759.5" r="3.0"/>
<circle cx="182.3" cy="732.4" r="3.0"/>
<circle cx="179.4" cy="733.9" r="3.0"/>
<circle cx="165.6" cy="749.9" r="3.0"/>
<circle cx="167.3" cy="748.4" r="3.0"/>
<circle cx="120.4" cy="744.1" r="3.0"/>
<circle cx="170.1" cy="730.1" r="3.0"/>
<circle cx="131.7" cy="740.0" r="3.0"/>
<circle cx="191.0" cy="740.1" r="3.0"/>
<circle cx="189.3" cy="722.7" r="3.0"/>
<circle cx="155.8" cy="733.9" r="3.0"/>
<circle cx="183.0" cy="752.4" r="3.0"/>
<circle cx="146.0" cy="766.9" r="3.0"/>
<circle cx="181.4" cy="734.0" r="3.0"/>
<circle cx="121.3" cy="775.1" r="3.0"/>
<circle cx="155.6" cy="739.8" r="3.0"/>
<circle cx="170.4" cy="744.7" r="3.0"/>
<circle cx="189.6" cy="721.7" r="3.0"/>
<circle cx="190.8" cy="748.2" r="3.0"/>
<circle cx="191.7" cy="729.9" r="3.0"/>
<circle cx="147.2" cy="760.6" r="3.0"/>
<circle cx="163.0" cy="744.6" r="3.0"/>
<circle cx="190.8" cy="729.4" r="3.0"/>
<circle cx="121.7" cy="768.6" r="3.0"/>
<circle cx="164.8" cy="736.0" r="3.0"/>
<circle cx="162.9" cy="752.3" r="3.0"/>
<circle cx="166.7" cy="756.1" r="3.0"/>
<circle cx="162.5" cy="754.7" r="3.0"/>
<circle cx="199.2" cy="746.2" r="3.0"/>
<circle cx="148.3" cy="758.7" r="3.0"/>
<circle cx="114.2" cy="751.2" r="3.0"/>
<circle cx="120.2" cy="771.9" r="3.0"/>
<circle cx="132.5" cy="755.4" r="3.0"/>
<circle cx="155.6" cy="745.9" r="3.0"/>
<circle cx="147.7" cy="751.9" r="3.0"/>
<circle cx="200.1" cy="728.9" r="3.0"/>
<circle cx="175.5" cy="749.1" r="3.0"/>
<circle cx="150.9" cy="734.6" r="3.0"/>
<circle cx="151.6" cy="759.4" r="3.0"/>
<circle cx="121.1" cy="753.6" r="3.0"/>
<circle cx="185.4" cy="742.9" r="3.0"/>
<circle cx="163.2" cy="751.9" r="3.0"/>
<circle cx="159.3" cy="732.1" r="3.0"/>
<circle cx="122.8" cy="752.5" r="3.0"/>
<circle cx="178.5" cy="731.0" r="3.0"/>
<circle cx="137.0" cy="745.4" r="3.0"/>
<circle cx="125.4" cy="757.1" r="3.0"/>
<circle cx="135.1" cy="758.4" r="3.0"/>
<circle cx="138.5" cy="732.2" r="3.0"/>
<circle cx="175.1" cy="735.5" r="3.0"/>
<circle cx="164.8" cy="737.6" r="3.0"/>
<circle cx="180.2" cy="744.5" r="3.0"/>
<circle cx="176.1" cy="741.6" r="3.0"/>
<circle cx="192.2" cy="738.7" r="3.0"/>
<circle cx="162.3" cy="721.1" r="3.0"/>
<circle cx="184.8" cy="748.7" r="3.0"/>
<circle cx="151.6" cy="742.8" r="3.0"/>
<circle cx="196.7" cy="710.9" r="3.0"/>
<circle cx="179.4" cy="762.8" r="3.0"/>
<circle cx="141.9" cy="759.2" r="3.0"/>
<circle cx="201.6" cy="726.6" r="3.0"/>
<circle cx="175.9" cy="747.9" r="3.0"/>
<circle cx="139.5" cy="751.7" r="3.0"/>
<circle cx="169.6" cy="749.6" r="3.0"/>
<circle cx="158.5" cy="743.0" r="3.0"/>
<circle cx="136.0" cy="750.2" r="3.0"/>
<circle cx="180.2" cy="737.5" r="3.0"/>
<circle cx="137.9" cy="744.3" r="3.0"/>
<circle cx="164.6" cy="714.7" r="3.0"/>
<circle cx="175.6" cy="743.4" r="3.0"/>
<circle cx="199.1" cy="733.5" r="3.0"/>
<circle cx="160.4" cy="750.0" r="3.0"/>
<circle cx="120.5" cy="771.4" r="3.0"/>
<circle cx="164.6" cy="735.1" r="3.0"/>
<circle cx="196.3" cy="749.5" r="3.0"/>
<circle cx="126.3" cy="750.8" r="3.0"/>
<circle cx="167.2" cy="743.6" r="3.0"/>
<circle cx="147.5" cy="739.0" r="3.0"/>
<circle cx="211.1" cy="735.2" r="3.0"/>
<circle cx="128.4" cy="742.7" r="3.0"/>
<circle cx="201.6" cy="738.5" r="3.0"/>
<circle cx="203.6" cy="735.8" r="3.0"/>
<circle cx="141.5" cy="754.7" r="3.0"/>
<circle cx="160.6" cy="749.9" r="3.0"/>
<circle cx="143.3" cy="749.8" r="3.0"/>
<circle cx="171.6" cy="743.9" r="3.0"/>
<circle cx="175.0" cy="740.8" r="3.0"/>
<circle cx="155.7" cy="754.7" r="3.0"/>
<circle cx="158.0" cy="736.4" r="3.0"/>
<circle cx="146.1" cy="750.1" r="3.0"/>
<circle cx="158.1" cy="746.9" r="3.0"/>
<circle cx="160.6" cy="746.1" r="3.0"/>
<circle cx="152.3" cy="734.0" r="3.0"/>
<circle cx="173.3" cy="750.5" r="3.0"/>
<circle cx="169.0" cy="738.9" r="3.0"/>
<circle cx="166.4" cy="731.6" r="3.0"/>
<circle cx="118.0" cy="762.0" r="3.0"/>
<circle cx="142.0" cy="759.7" r="3.0"/>
<circle cx="126.1" cy="729.8" r="3.0"/>
<circle cx="142.7" cy="768.4" r="3.0"/>
<circle cx="146.4" cy="735.2" r="3.0"/>
<circle cx="144.9" cy="756.1" r="3.0"/>
<circle cx="171.7" cy="741.7" r="3.0"/>
<circle cx="195.7" cy="737.8" r="3.0"/>
<circle cx="161.7" cy="750.2" r="3.0"/>
<circle cx="200.5" cy="738.8" r="3.0"/>
<circle cx="178.8" cy="725.3" r="3.0"/>
<circle cx="159.4" cy="752.6" r="3.0"/>
<circle cx="157.4" cy="757.1" r="3.0"/>
<circle cx="176.7" cy="747.6" r="3.0"/>
<circle cx="164.7" cy="770.0" r="3.0"/>
<circle cx="186.8" cy="731.4" r="3.0"/>
<circle cx="171.7" cy="767.8" r="3.0"/>
<circle cx="155.6" cy="755.7" r="3.0"/>
<circle cx="181.9" cy="735.8" r="3.0"/>
<circle cx="134.7" cy="756.6" r="3.0"/>
<circle cx="172.2" cy="751.8" r="3.0"/>
<circle cx="177.5" cy="737.7" r="3.0"/>
<circle cx="181.0" cy="741.9" r="3.0"/>
<circle cx="164.8" cy="743.2" r="3.0"/>
<circle cx="157.1" cy="753.0" r="3.0"/>
<circle cx="134.2" cy="748.1" r="3.0"/>
<circle cx="154.7" cy="730.9" r="3.0"/>
<circle cx="142.8" cy="729.7" r="3.0"/>
<circle cx="146.9" cy="755.9" r="3.0"/>
<circle cx="172.4" cy="738.9" r="3.0"/>
<circle cx="149.6" cy="733.4" r="3.0"/>
<circle cx="202.6" cy="733.0" r="3.0"/>
<circle cx="181.1" cy="726.6" r="3.0"/>
<circle cx="149.1" cy="729.3" r="3.0"/>
<circle cx="180.9" cy="746.2" r="3.0"/>
<circle cx="117.5" cy="760.9" r="3.0"/>
<circle cx="167.5" cy="722.5" r="3.0"/>
<circle cx="115.4" cy="750.9" r="3.0"/>
<circle cx="140.8" cy="737.1" r="3.0"/>
<circle cx="161.6" cy="746.5" r="3.0"/>
<circle cx="176.7" cy="745.4" r="3.0"/>
<circle cx="197.8" cy="741.9" r="3.0"/>
<circle cx="128.9" cy="751.5" r="3.0"/>
<circle cx="132.4" cy="744.0" r="3.0"/>
<circle cx="158.2" cy="745.3" r="3.0"/>
<circle cx="165.0" cy="725.4" r="3.0"/>
<circle cx="132.3" cy="755.3" r="3.0"/>
<circle cx="154.4" cy="743.4" r="3.0"/>
<circle cx="155.8" cy="738.0" r="3.0"/>
<circle cx="176.9" cy="741.5" r="3.0"/>
<circle cx="155.5" cy="739.0" r="3.0"/>
<circle cx="146.0" cy="720.8" r="3.0"/>
<circle cx="138.3" cy="753.6" r="3.0"/>
<circle cx="127.2" cy="759.8" r="3.0"/>
<circle cx="158.2" cy="730.4" r="3.0"/>
<circle cx="153.3" cy="743.8" r="3.0"/>
<circle cx="172.5" cy="746.1" r="3.0"/>
<circle cx="156.0" cy="736.9" r="3.0"/>
<circle cx="156.5" cy="745.2" r="3.0"/>
<circle cx="177.5" cy="740.7" r="3.0"/>
<circle cx="138.9" cy="738.4" r="3.0"/>
<circle cx="148.9" cy="741.0" r="3.0"/>
<circle cx="134.8" cy="753.3" r="3.0"/>
<circle cx="149.4" cy="749.9" r="3.0"/>
<circle cx="170.1" cy="736.0" r="3.0"/>
<circle cx="210.6" cy="720.8" r="3.0"/>
<circle cx="185.0" cy="735.8" r="3.0"/>
<circle cx="176.0" cy="712.5" r="3.0"/>
<circle cx="144.2" cy="753.5" r="3.0"/>
<circle cx="182.1" cy="760.8" r="3.0"/>
<circle cx="171.9" cy="753.5" r="3.0"/>
<circle cx="180.6" cy="746.5" r="3.0"/>
<circle cx="170.8" cy="738.5" r="3.0"/>
<circle cx="167.3" cy="730.0" r="3.0"/>
<circle cx="182.5" cy="724.5" r="3.0"/>
<circle cx="173.4" cy="762.0" r="3.0"/>
<circle cx="155.1" cy="746.7" r="3.0"/>
<circle cx="186.0" cy="734.4" r="3.0"/>
<circle cx="143.0" cy="754.1" r="3.0"/>
<circle cx="175.6" cy="745.9" r="3.0"/>
<circle cx="149.3" cy="767.7" r="3.0"/>
<circle cx="197.2" cy="729.8" r="3.0"/>
<circle cx="164.4" cy="738.1" r="3.0"/>
<circle cx="188.9" cy="725.4" r="3.0"/>
<circle cx="173.2" cy="734.0" r="3.0"/>
<circle cx="147.2" cy="757.4" r="3.0"/>
<circle cx="189.7" cy="732.5" r="3.0"/>
<circle cx="147.9" cy="758.1" r="3.0"/>
<circle cx="160.1" cy="747.8" r="3.0"/>
<circle cx="198.1" cy="741.4" r="3.0"/>
<circle cx="156.9" cy="770.3" r="3.0"/>
<circle cx="163.0" cy="751.8" r="3.0"/>
<circle cx="145.4" cy="749.9" r="3.0"/>
<circle cx="127.6" cy="776.7" r="3.0"/>
<circle cx="185.9" cy="721.0" r="3.0"/>
<circle cx="120.4" cy="742.9" r="3.0"/>
<circle cx="184.5" cy="729.8" r="3.0"/>
<circle cx="157.5" cy="742.1" r="3.0"/>
<circle cx="153.3" cy="735.5" r="3.0"/>
<circle cx="155.2" cy="730.9" r="3.0"/>
<circle cx="159.6" cy="748.0" r="3.0"/>
<circle cx="169.6" cy="738.2" r="3.0"/>
<circle cx="140.5" cy="754.0" r="3.0"/>
<circle cx="155.0" cy="763.4" r="3.0"/>
<circle cx="176.7" cy="736.6" r="3.0"/>
<circle cx="146.9" cy="742.2" r="3.0"/>
<circle cx="137.8" cy="749.6" r="3.0"/>
<circle cx="168.5" cy="746.7" r="3.0"/>
<circle cx="180.5" cy="758.9" r="3.0"/>
<circle cx="144.3" cy="750.9" r="3.0"/>
<circle cx="149.0" cy="750.7" r="3.0"/>
<circle cx="165.0" cy="746.9" r="3.0"/>
<circle cx="156.0" cy="750.0" r="3.0"/>
<circle cx="164.0" cy="751.2" r="3.0"/>
<circle cx="114.5" cy="753.2" r="3.0"/>
<circle cx="156.1" cy="734.9" r="3.0"/>
<circle cx="139.1" cy="759.6" r="3.0"/>
<circle cx="147.9" cy="756.2" r="3.0"/>
<circle cx="177.8" cy="740.7" r="3.0"/>
<circle cx="170.9" cy="739.0" r="3.0"/>
<circle cx="128.5" cy="756.8" r="3.0"/>
<circle cx="168.2" cy="735.5" r="3.0"/>
<circle cx="160.6" cy="752.3" r="3.0"/>
<circle cx="142.8" cy="758.3" r="3.0"/>
<circle cx="199.4" cy="722.7" r="3.0"/>
<circle cx="162.7" cy="741.8" r="3.0"/>
<circle cx="195.5" cy="733.7" r="3.0"/>
<circle cx="177.4" cy="730.1" r="3.0"/>
<circle cx="159.6" cy="744.6" r="3.0"/>
<circle cx="125.8" cy="773.7" r="3.0"/>
<circle cx="173.5" cy="720.2" r="3.0"/>
<circle cx="176.1" cy="736.6" r="3.0"/>
<circle cx="171.4" cy="743.9" r="3.0"/>
<circle cx="125.8" cy="755.9" r="3.0"/>
<circle cx="191.1" cy="725.9" r="3.0"/>
<circle cx="132.2" cy="741.0" r="3.0"/>
<circle cx="61.9" cy="784.6" r="3.0"/>
<circle cx="70.0" cy="763.4" r="3.0"/>
<circle cx="83.8" cy="761.1" r="3.0"/>
<circle cx="89.6" cy="778.9" r="3.0"/>
<circle cx="93.1" cy="755.1" r="3.0"/>
<circle cx="87.3" cy="768.5" r="3.0"/>
<circle cx="91.9" cy="766.2" r="3.0"/>
<circle cx="97.7" cy="769.6" r="3.0"/>
<circle cx="102.3" cy="752.3" r="3.0"/>
<circle cx="108.1" cy="751.2" r="3.0"/>
<circle cx="115.0" cy="732.7" r="3.0"/>
<circle cx="118.5" cy="725.1" r="3.0"/>
<circle cx="124.2" cy="720.0" r="3.0"/>
<circle cx="128.9" cy="718.2" r="3.0"/>
<circle cx="149.2" cy="709.6" r="3.0"/>
<circle cx="153.8" cy="714.9" r="3.0"/>
<circle cx="161.2" cy="715.8" r="3.0"/>
<circle cx="169.9" cy="709.6" r="3.0"/>
<circle cx="144.5" cy="715.8" r="3.0"/>
<circle cx="142.7" cy="724.2" r="3.0"/>
<circle cx="122.4" cy="785.1" r="3.0"/>
<circle cx="140.4" cy="781.2" r="3.0"/>
<circle cx="154.7" cy="793.9" r="3.0"/>
<circle cx="166.2" cy="771.9" r="3.0"/>
<circle cx="121.9" cy="775.9" r="3.0"/>
<circle cx="111.5" cy="773.1" r="3.0"/>
<circle cx="116.2" cy="770.8" r="3.0"/>
<circle cx="108.5" cy="763.9" r="3.0"/>
<circle cx="113.8" cy="766.2" r="3.0"/>
<circle cx="121.9" cy="766.2" r="3.0"/>
<circle cx="110.4" cy="769.6" r="3.0"/>
<circle cx="113.8" cy="745.4" r="3.0"/>
<circle cx="120.8" cy="743.5" r="3.0"/>
<circle cx="106.9" cy="749.5" r="3.0"/>
<circle cx="230.7" cy="699.7" r="3.0"/>
<circle cx="229.3" cy="714.9" r="3.0"/>
<circle cx="228.2" cy="736.2" r="3.0"/>
<circle cx="225.9" cy="742.6" r="3.0"/>
<circle cx="220.8" cy="747.2" r="3.0"/>
<circle cx="215.0" cy="723.5" r="3.0"/>
<circle cx="208.5" cy="757.6" r="3.0"/>
<circle cx="200.0" cy="713.1" r="3.0"/>
<circle cx="202.3" cy="721.2" r="3.0"/>
<circle cx="186.9" cy="705.7" r="3.0"/>
<circle cx="180.8" cy="709.6" r="3.0"/>
<circle cx="189.6" cy="715.4" r="3.0"/>
<circle cx="196.5" cy="718.8" r="3.0"/>
<circle cx="208.1" cy="726.9" r="3.0"/>
<circle cx="201.2" cy="752.3" r="3.0"/>
<circle cx="194.2" cy="755.8" r="3.0"/>
<circle cx="180.4" cy="768.5" r="3.0"/>
<circle cx="174.2" cy="763.4" r="3.0"/>
<circle cx="152.7" cy="765.0" r="3.0"/>
<circle cx="144.6" cy="765.0" r="3.0"/>
<circle cx="203.5" cy="737.3" r="3.0"/>
<circle cx="205.8" cy="741.9" r="3.0"/>
<circle cx="209.2" cy="732.7" r="3.0"/>
<circle cx="174.5" cy="825.0" r="3.0"/>
<circle cx="158.2" cy="831.2" r="3.0"/>
</g>
<line x1="61.90" y1="770.30" x2="230.70" y2="725.10" stroke="#111" stroke-width="2.2"/>
<path d="M390.0 760.0C389.3 756.7 391.3 750.8 398.0 747.0C404.7 743.2 420.3 740.0 430.0 737.0C439.7 734.0 450.2 730.2 456.0 729.0C461.8 727.8 463.2 728.2 465.0 730.0C466.8 731.8 468.2 736.8 467.0 740.0C465.8 743.2 464.2 746.0 458.0 749.0C451.8 752.0 439.3 755.0 430.0 758.0C420.7 761.0 408.7 766.7 402.0 767.0C395.3 767.3 390.7 763.3 390.0 760.0Z" fill="#9a9a9a"/>
<g fill="none" stroke="#979797" stroke-width="1.15">
<circle cx="398.1" cy="761.3" r="3.0"/>
<circle cx="457.2" cy="734.5" r="3.0"/>
<circle cx="394.0" cy="758.3" r="3.0"/>
<circle cx="447.2" cy="752.8" r="3.0"/>
<circle cx="393.9" cy="746.8" r="3.0"/>
<circle cx="451.8" cy="745.5" r="3.0"/>
<circle cx="476.1" cy="742.8" r="3.0"/>
<circle cx="427.4" cy="746.0" r="3.0"/>
<circle cx="406.2" cy="744.5" r="3.0"/>
<circle cx="434.0" cy="747.9" r="3.0"/>
<circle cx="421.3" cy="749.9" r="3.0"/>
<circle cx="440.4" cy="751.1" r="3.0"/>
<circle cx="461.9" cy="739.9" r="3.0"/>
<circle cx="383.3" cy="768.9" r="3.0"/>
<circle cx="391.2" cy="758.2" r="3.0"/>
<circle cx="390.2" cy="760.2" r="3.0"/>
<circle cx="410.0" cy="756.0" r="3.0"/>
<circle cx="450.8" cy="728.9" r="3.0"/>
<circle cx="424.8" cy="755.7" r="3.0"/>
<circle cx="429.4" cy="751.5" r="3.0"/>
<circle cx="431.2" cy="738.0" r="3.0"/>
<circle cx="444.5" cy="735.7" r="3.0"/>
<circle cx="481.5" cy="727.1" r="3.0"/>
<circle cx="450.0" cy="741.6" r="3.0"/>
<circle cx="455.8" cy="734.1" r="3.0"/>
<circle cx="458.3" cy="737.9" r="3.0"/>
<circle cx="467.7" cy="742.0" r="3.0"/>
<circle cx="432.8" cy="739.6" r="3.0"/>
<circle cx="453.5" cy="744.9" r="3.0"/>
<circle cx="475.5" cy="730.2" r="3.0"/>
<circle cx="447.7" cy="747.1" r="3.0"/>
<circle cx="439.4" cy="746.9" r="3.0"/>
<circle cx="434.5" cy="740.8" r="3.0"/>
<circle cx="401.8" cy="752.8" r="3.0"/>
<circle cx="451.4" cy="755.4" r="3.0"/>
<circle cx="460.9" cy="748.2" r="3.0"/>
<circle cx="454.4" cy="746.8" r="3.0"/>
<circle cx="438.1" cy="752.6" r="3.0"/>
<circle cx="479.3" cy="729.5" r="3.0"/>
<circle cx="417.0" cy="770.3" r="3.0"/>
<circle cx="440.4" cy="753.7" r="3.0"/>
<circle cx="452.2" cy="730.2" r="3.0"/>
<circle cx="437.9" cy="752.4" r="3.0"/>
<circle cx="432.2" cy="738.8" r="3.0"/>
<circle cx="428.9" cy="751.7" r="3.0"/>
<circle cx="463.8" cy="744.0" r="3.0"/>
<circle cx="436.3" cy="758.6" r="3.0"/>
<circle cx="412.0" cy="760.8" r="3.0"/>
<circle cx="461.0" cy="735.4" r="3.0"/>
<circle cx="379.0" cy="755.1" r="3.0"/>
<circle cx="439.0" cy="750.0" r="3.0"/>
<circle cx="471.2" cy="725.6" r="3.0"/>
<circle cx="432.8" cy="753.1" r="3.0"/>
<circle cx="420.3" cy="728.5" r="3.0"/>
<circle cx="459.5" cy="760.5" r="3.0"/>
<circle cx="456.4" cy="731.0" r="3.0"/>
<circle cx="420.2" cy="752.9" r="3.0"/>
<circle cx="438.3" cy="759.9" r="3.0"/>
<circle cx="433.7" cy="764.2" r="3.0"/>
<circle cx="410.8" cy="749.3" r="3.0"/>
<circle cx="454.8" cy="753.6" r="3.0"/>
<circle cx="449.9" cy="744.5" r="3.0"/>
<circle cx="378.6" cy="757.0" r="3.0"/>
<circle cx="412.7" cy="748.2" r="3.0"/>
<circle cx="446.4" cy="739.6" r="3.0"/>
<circle cx="453.0" cy="741.4" r="3.0"/>
<circle cx="422.1" cy="751.4" r="3.0"/>
<circle cx="445.2" cy="751.2" r="3.0"/>
<circle cx="417.2" cy="749.6" r="3.0"/>
<circle cx="397.5" cy="773.0" r="3.0"/>
<circle cx="470.7" cy="733.5" r="3.0"/>
<circle cx="414.5" cy="741.0" r="3.0"/>
<circle cx="436.3" cy="747.8" r="3.0"/>
<circle cx="492.1" cy="730.9" r="3.0"/>
<circle cx="402.9" cy="733.2" r="3.0"/>
<circle cx="470.5" cy="737.0" r="3.0"/>
<circle cx="386.9" cy="762.9" r="3.0"/>
<circle cx="395.7" cy="791.2" r="3.0"/>
<circle cx="463.5" cy="742.8" r="3.0"/>
<circle cx="420.4" cy="730.6" r="3.0"/>
<circle cx="423.4" cy="735.2" r="3.0"/>
<circle cx="441.8" cy="724.0" r="3.0"/>
<circle cx="409.1" cy="765.8" r="3.0"/>
<circle cx="473.4" cy="723.2" r="3.0"/>
<circle cx="390.9" cy="768.2" r="3.0"/>
<circle cx="452.0" cy="731.7" r="3.0"/>
<circle cx="409.9" cy="747.5" r="3.0"/>
<circle cx="396.2" cy="751.9" r="3.0"/>
<circle cx="467.5" cy="742.7" r="3.0"/>
<circle cx="487.7" cy="729.1" r="3.0"/>
<circle cx="424.6" cy="740.2" r="3.0"/>
<circle cx="424.1" cy="737.3" r="3.0"/>
<circle cx="383.6" cy="768.8" r="3.0"/>
<circle cx="473.1" cy="742.3" r="3.0"/>
<circle cx="468.6" cy="738.2" r="3.0"/>
<circle cx="411.3" cy="754.4" r="3.0"/>
<circle cx="417.7" cy="741.2" r="3.0"/>
<circle cx="380.2" cy="749.3" r="3.0"/>
<circle cx="431.2" cy="748.8" r="3.0"/>
<circle cx="421.7" cy="763.9" r="3.0"/>
<circle cx="437.5" cy="751.0" r="3.0"/>
<circle cx="462.6" cy="730.0" r="3.0"/>
<circle cx="378.4" cy="770.9" r="3.0"/>
<circle cx="415.4" cy="764.7" r="3.0"/>
<circle cx="443.0" cy="753.3" r="3.0"/>
<circle cx="446.6" cy="723.1" r="3.0"/>
<circle cx="449.1" cy="735.5" r="3.0"/>
<circle cx="408.9" cy="750.3" r="3.0"/>
<circle cx="454.6" cy="748.5" r="3.0"/>
<circle cx="454.6" cy="724.5" r="3.0"/>
<circle cx="408.3" cy="732.2" r="3.0"/>
<circle cx="429.8" cy="753.5" r="3.0"/>
<circle cx="410.5" cy="756.2" r="3.0"/>
<circle cx="440.1" cy="754.2" r="3.0"/>
<circle cx="406.0" cy="747.4" r="3.0"/>
<circle cx="414.5" cy="769.1" r="3.0"/>
<circle cx="460.9" cy="737.1" r="3.0"/>
<circle cx="437.6" cy="746.5" r="3.0"/>
<circle cx="436.1" cy="744.0" r="3.0"/>
<circle cx="418.4" cy="739.6" r="3.0"/>
<circle cx="417.6" cy="767.2" r="3.0"/>
<circle cx="446.0" cy="743.4" r="3.0"/>
<circle cx="425.2" cy="749.9" r="3.0"/>
<circle cx="439.1" cy="738.9" r="3.0"/>
<circle cx="437.1" cy="747.9" r="3.0"/>
<circle cx="408.2" cy="747.1" r="3.0"/>
<circle cx="400.5" cy="746.9" r="3.0"/>
<circle cx="449.4" cy="719.6" r="3.0"/>
<circle cx="422.0" cy="744.5" r="3.0"/>
<circle cx="414.1" cy="753.7" r="3.0"/>
<circle cx="462.4" cy="738.5" r="3.0"/>
<circle cx="425.5" cy="743.4" r="3.0"/>
<circle cx="429.9" cy="756.4" r="3.0"/>
<circle cx="417.0" cy="741.0" r="3.0"/>
<circle cx="393.0" cy="748.8" r="3.0"/>
<circle cx="395.4" cy="768.9" r="3.0"/>
<circle cx="440.2" cy="742.4" r="3.0"/>
<circle cx="469.7" cy="729.3" r="3.0"/>
<circle cx="454.0" cy="747.9" r="3.0"/>
<circle cx="384.0" cy="747.4" r="3.0"/>
<circle cx="407.7" cy="763.3" r="3.0"/>
<circle cx="463.6" cy="725.8" r="3.0"/>
<circle cx="459.0" cy="735.2" r="3.0"/>
<circle cx="418.6" cy="746.1" r="3.0"/>
<circle cx="417.2" cy="734.7" r="3.0"/>
<circle cx="400.0" cy="745.5" r="3.0"/>
<circle cx="450.2" cy="761.2" r="3.0"/>
<circle cx="382.2" cy="758.8" r="3.0"/>
<circle cx="410.3" cy="772.6" r="3.0"/>
<circle cx="444.9" cy="736.3" r="3.0"/>
<circle cx="458.3" cy="744.1" r="3.0"/>
<circle cx="384.6" cy="756.9" r="3.0"/>
<circle cx="424.4" cy="749.7" r="3.0"/>
<circle cx="433.8" cy="743.5" r="3.0"/>
<circle cx="434.7" cy="740.8" r="3.0"/>
<circle cx="410.2" cy="768.2" r="3.0"/>
<circle cx="442.1" cy="748.2" r="3.0"/>
<circle cx="386.4" cy="759.8" r="3.0"/>
<circle cx="450.2" cy="729.4" r="3.0"/>
<circle cx="460.4" cy="734.7" r="3.0"/>
<circle cx="441.8" cy="742.9" r="3.0"/>
<circle cx="440.3" cy="756.0" r="3.0"/>
<circle cx="424.0" cy="764.4" r="3.0"/>
<circle cx="406.9" cy="746.2" r="3.0"/>
<circle cx="447.9" cy="732.2" r="3.0"/>
<circle cx="423.2" cy="758.5" r="3.0"/>
<circle cx="459.8" cy="721.8" r="3.0"/>
<circle cx="450.0" cy="759.3" r="3.0"/>
<circle cx="463.5" cy="735.2" r="3.0"/>
<circle cx="413.6" cy="750.1" r="3.0"/>
<circle cx="398.4" cy="755.1" r="3.0"/>
<circle cx="425.4" cy="747.9" r="3.0"/>
<circle cx="463.1" cy="735.4" r="3.0"/>
<circle cx="393.4" cy="769.1" r="3.0"/>
<circle cx="400.1" cy="752.9" r="3.0"/>
<circle cx="426.4" cy="745.7" r="3.0"/>
<circle cx="402.6" cy="754.0" r="3.0"/>
<circle cx="489.9" cy="723.5" r="3.0"/>
<circle cx="430.2" cy="758.3" r="3.0"/>
<circle cx="453.7" cy="747.7" r="3.0"/>
<circle cx="449.6" cy="723.2" r="3.0"/>
<circle cx="407.4" cy="756.0" r="3.0"/>
<circle cx="448.3" cy="754.3" r="3.0"/>
<circle cx="443.4" cy="741.4" r="3.0"/>
<circle cx="431.5" cy="745.3" r="3.0"/>
<circle cx="439.6" cy="751.2" r="3.0"/>
<circle cx="419.4" cy="743.4" r="3.0"/>
<circle cx="410.2" cy="764.3" r="3.0"/>
<circle cx="469.1" cy="745.0" r="3.0"/>
<circle cx="457.0" cy="747.3" r="3.0"/>
<circle cx="432.7" cy="753.2" r="3.0"/>
<circle cx="401.3" cy="754.8" r="3.0"/>
<circle cx="412.6" cy="760.0" r="3.0"/>
<circle cx="414.6" cy="751.6" r="3.0"/>
<circle cx="445.7" cy="755.7" r="3.0"/>
<circle cx="406.6" cy="746.2" r="3.0"/>
<circle cx="450.7" cy="731.0" r="3.0"/>
<circle cx="442.0" cy="738.7" r="3.0"/>
<circle cx="423.2" cy="732.8" r="3.0"/>
<circle cx="449.4" cy="737.1" r="3.0"/>
<circle cx="411.6" cy="773.1" r="3.0"/>
<circle cx="460.1" cy="771.6" r="3.0"/>
<circle cx="441.4" cy="741.0" r="3.0"/>
<circle cx="438.3" cy="760.4" r="3.0"/>
<circle cx="431.5" cy="751.6" r="3.0"/>
<circle cx="442.9" cy="735.2" r="3.0"/>
<circle cx="433.2" cy="742.1" r="3.0"/>
<circle cx="398.8" cy="765.7" r="3.0"/>
<circle cx="449.6" cy="742.4" r="3.0"/>
<circle cx="400.5" cy="738.0" r="3.0"/>
<circle cx="444.2" cy="742.5" r="3.0"/>
<circle cx="384.2" cy="761.4" r="3.0"/>
<circle cx="388.8" cy="760.3" r="3.0"/>
<circle cx="435.9" cy="749.3" r="3.0"/>
<circle cx="437.5" cy="747.1" r="3.0"/>
<circle cx="398.4" cy="754.0" r="3.0"/>
<circle cx="416.2" cy="749.9" r="3.0"/>
<circle cx="440.1" cy="750.5" r="3.0"/>
<circle cx="469.4" cy="711.4" r="3.0"/>
<circle cx="441.6" cy="742.4" r="3.0"/>
<circle cx="386.3" cy="765.1" r="3.0"/>
<circle cx="419.2" cy="760.5" r="3.0"/>
<circle cx="401.5" cy="755.7" r="3.0"/>
<circle cx="427.1" cy="747.8" r="3.0"/>
<circle cx="409.9" cy="736.7" r="3.0"/>
<circle cx="446.4" cy="752.1" r="3.0"/>
<circle cx="426.4" cy="739.3" r="3.0"/>
<circle cx="438.1" cy="750.6" r="3.0"/>
<circle cx="426.1" cy="748.9" r="3.0"/>
<circle cx="467.0" cy="725.8" r="3.0"/>
<circle cx="410.5" cy="735.9" r="3.0"/>
<circle cx="409.6" cy="747.2" r="3.0"/>
<circle cx="402.6" cy="749.8" r="3.0"/>
<circle cx="480.3" cy="730.4" r="3.0"/>
<circle cx="433.7" cy="767.4" r="3.0"/>
<circle cx="424.7" cy="733.1" r="3.0"/>
<circle cx="439.7" cy="736.0" r="3.0"/>
<circle cx="473.1" cy="722.7" r="3.0"/>
<circle cx="410.6" cy="738.7" r="3.0"/>
<circle cx="431.0" cy="737.9" r="3.0"/>
<circle cx="428.2" cy="744.8" r="3.0"/>
<circle cx="416.5" cy="760.9" r="3.0"/>
<circle cx="457.1" cy="740.0" r="3.0"/>
<circle cx="403.2" cy="746.0" r="3.0"/>
<circle cx="444.8" cy="765.7" r="3.0"/>
<circle cx="416.3" cy="744.7" r="3.0"/>
<circle cx="408.8" cy="744.1" r="3.0"/>
<circle cx="403.5" cy="754.1" r="3.0"/>
<circle cx="470.7" cy="735.2" r="3.0"/>
<circle cx="412.5" cy="738.0" r="3.0"/>
<circle cx="436.8" cy="745.4" r="3.0"/>
<circle cx="394.1" cy="748.7" r="3.0"/>
<circle cx="432.5" cy="756.6" r="3.0"/>
<circle cx="448.9" cy="743.9" r="3.0"/>
<circle cx="422.9" cy="753.0" r="3.0"/>
<circle cx="436.5" cy="766.3" r="3.0"/>
<circle cx="398.7" cy="754.1" r="3.0"/>
<circle cx="465.4" cy="734.3" r="3.0"/>
<circle cx="470.4" cy="734.9" r="3.0"/>
<circle cx="434.0" cy="743.1" r="3.0"/>
<circle cx="390.2" cy="751.0" r="3.0"/>
<circle cx="450.3" cy="750.5" r="3.0"/>
<circle cx="449.5" cy="751.4" r="3.0"/>
<circle cx="423.0" cy="747.9" r="3.0"/>
<circle cx="457.3" cy="736.0" r="3.0"/>
<circle cx="393.5" cy="757.0" r="3.0"/>
<circle cx="417.5" cy="757.5" r="3.0"/>
<circle cx="408.2" cy="744.6" r="3.0"/>
<circle cx="425.9" cy="763.7" r="3.0"/>
<circle cx="430.1" cy="749.3" r="3.0"/>
<circle cx="432.0" cy="750.0" r="3.0"/>
<circle cx="460.4" cy="751.5" r="3.0"/>
<circle cx="389.1" cy="773.3" r="3.0"/>
<circle cx="430.1" cy="744.8" r="3.0"/>
<circle cx="487.5" cy="739.1" r="3.0"/>
<circle cx="403.8" cy="760.5" r="3.0"/>
<circle cx="451.1" cy="740.1" r="3.0"/>
<circle cx="365.6" cy="764.5" r="3.0"/>
<circle cx="422.7" cy="739.6" r="3.0"/>
<circle cx="480.9" cy="729.7" r="3.0"/>
<circle cx="419.3" cy="748.3" r="3.0"/>
<circle cx="407.2" cy="747.6" r="3.0"/>
<circle cx="434.4" cy="749.4" r="3.0"/>
<circle cx="416.7" cy="751.1" r="3.0"/>
<circle cx="393.9" cy="763.9" r="3.0"/>
<circle cx="410.8" cy="755.8" r="3.0"/>
<circle cx="404.5" cy="750.9" r="3.0"/>
<circle cx="433.7" cy="735.2" r="3.0"/>
<circle cx="427.0" cy="741.8" r="3.0"/>
<circle cx="478.9" cy="745.7" r="3.0"/>
<circle cx="435.7" cy="733.2" r="3.0"/>
<circle cx="418.7" cy="757.1" r="3.0"/>
<circle cx="413.7" cy="741.7" r="3.0"/>
<circle cx="396.0" cy="751.1" r="3.0"/>
<circle cx="429.6" cy="741.8" r="3.0"/>
<circle cx="438.9" cy="771.3" r="3.0"/>
<circle cx="477.3" cy="723.4" r="3.0"/>
<circle cx="440.7" cy="745.3" r="3.0"/>
<circle cx="430.0" cy="757.7" r="3.0"/>
<circle cx="420.9" cy="747.6" r="3.0"/>
<circle cx="420.4" cy="749.9" r="3.0"/>
<circle cx="468.7" cy="743.1" r="3.0"/>
<circle cx="392.7" cy="755.2" r="3.0"/>
<circle cx="411.1" cy="761.4" r="3.0"/>
<circle cx="439.6" cy="753.2" r="3.0"/>
<circle cx="424.2" cy="731.6" r="3.0"/>
<circle cx="444.1" cy="745.6" r="3.0"/>
<circle cx="441.6" cy="731.9" r="3.0"/>
<circle cx="431.4" cy="740.9" r="3.0"/>
<circle cx="412.9" cy="756.4" r="3.0"/>
<circle cx="438.4" cy="736.8" r="3.0"/>
<circle cx="377.0" cy="740.9" r="3.0"/>
<circle cx="418.1" cy="762.1" r="3.0"/>
<circle cx="423.5" cy="728.6" r="3.0"/>
<circle cx="408.2" cy="758.5" r="3.0"/>
<circle cx="480.4" cy="743.2" r="3.0"/>
<circle cx="441.7" cy="746.0" r="3.0"/>
<circle cx="400.5" cy="752.7" r="3.0"/>
<circle cx="419.7" cy="743.7" r="3.0"/>
<circle cx="431.7" cy="743.6" r="3.0"/>
<circle cx="324.2" cy="734.3" r="3.0"/>
<circle cx="386.5" cy="705.7" r="3.0"/>
<circle cx="428.1" cy="699.2" r="3.0"/>
<circle cx="403.2" cy="709.6" r="3.0"/>
<circle cx="397.6" cy="714.9" r="3.0"/>
<circle cx="422.3" cy="714.2" r="3.0"/>
<circle cx="425.3" cy="716.5" r="3.0"/>
<circle cx="409.6" cy="718.8" r="3.0"/>
<circle cx="416.1" cy="721.2" r="3.0"/>
<circle cx="408.5" cy="724.2" r="3.0"/>
<circle cx="415.4" cy="726.9" r="3.0"/>
<circle cx="385.4" cy="739.6" r="3.0"/>
<circle cx="396.9" cy="736.2" r="3.0"/>
<circle cx="391.2" cy="744.2" r="3.0"/>
<circle cx="348.5" cy="763.4" r="3.0"/>
<circle cx="351.9" cy="767.3" r="3.0"/>
<circle cx="361.2" cy="773.1" r="3.0"/>
<circle cx="353.8" cy="784.6" r="3.0"/>
<circle cx="363.5" cy="785.1" r="3.0"/>
<circle cx="375.5" cy="781.6" r="3.0"/>
<circle cx="398.5" cy="778.9" r="3.0"/>
<circle cx="392.3" cy="775.9" r="3.0"/>
<circle cx="408.5" cy="769.6" r="3.0"/>
<circle cx="421.6" cy="774.2" r="3.0"/>
<circle cx="423.9" cy="771.9" r="3.0"/>
<circle cx="414.2" cy="793.9" r="3.0"/>
<circle cx="365.8" cy="768.5" r="3.0"/>
<circle cx="371.5" cy="760.4" r="3.0"/>
<circle cx="370.4" cy="757.0" r="3.0"/>
<circle cx="441.5" cy="708.9" r="3.0"/>
<circle cx="452.4" cy="709.6" r="3.0"/>
<circle cx="433.5" cy="714.9" r="3.0"/>
<circle cx="447.3" cy="714.2" r="3.0"/>
<circle cx="462.3" cy="714.2" r="3.0"/>
<circle cx="483.1" cy="714.9" r="3.0"/>
<circle cx="490.0" cy="719.5" r="3.0"/>
<circle cx="471.5" cy="753.5" r="3.0"/>
<circle cx="483.1" cy="736.2" r="3.0"/>
<circle cx="479.6" cy="737.3" r="3.0"/>
<circle cx="472.7" cy="745.4" r="3.0"/>
<circle cx="442.7" cy="765.0" r="3.0"/>
<circle cx="451.9" cy="759.2" r="3.0"/>
<circle cx="320.8" cy="831.2" r="3.0"/>
<circle cx="373.8" cy="825.0" r="3.0"/>
</g>
<line x1="320.80" y1="780.70" x2="489.30" y2="724.20" stroke="#111" stroke-width="2.2"/>
</svg></body></html>
